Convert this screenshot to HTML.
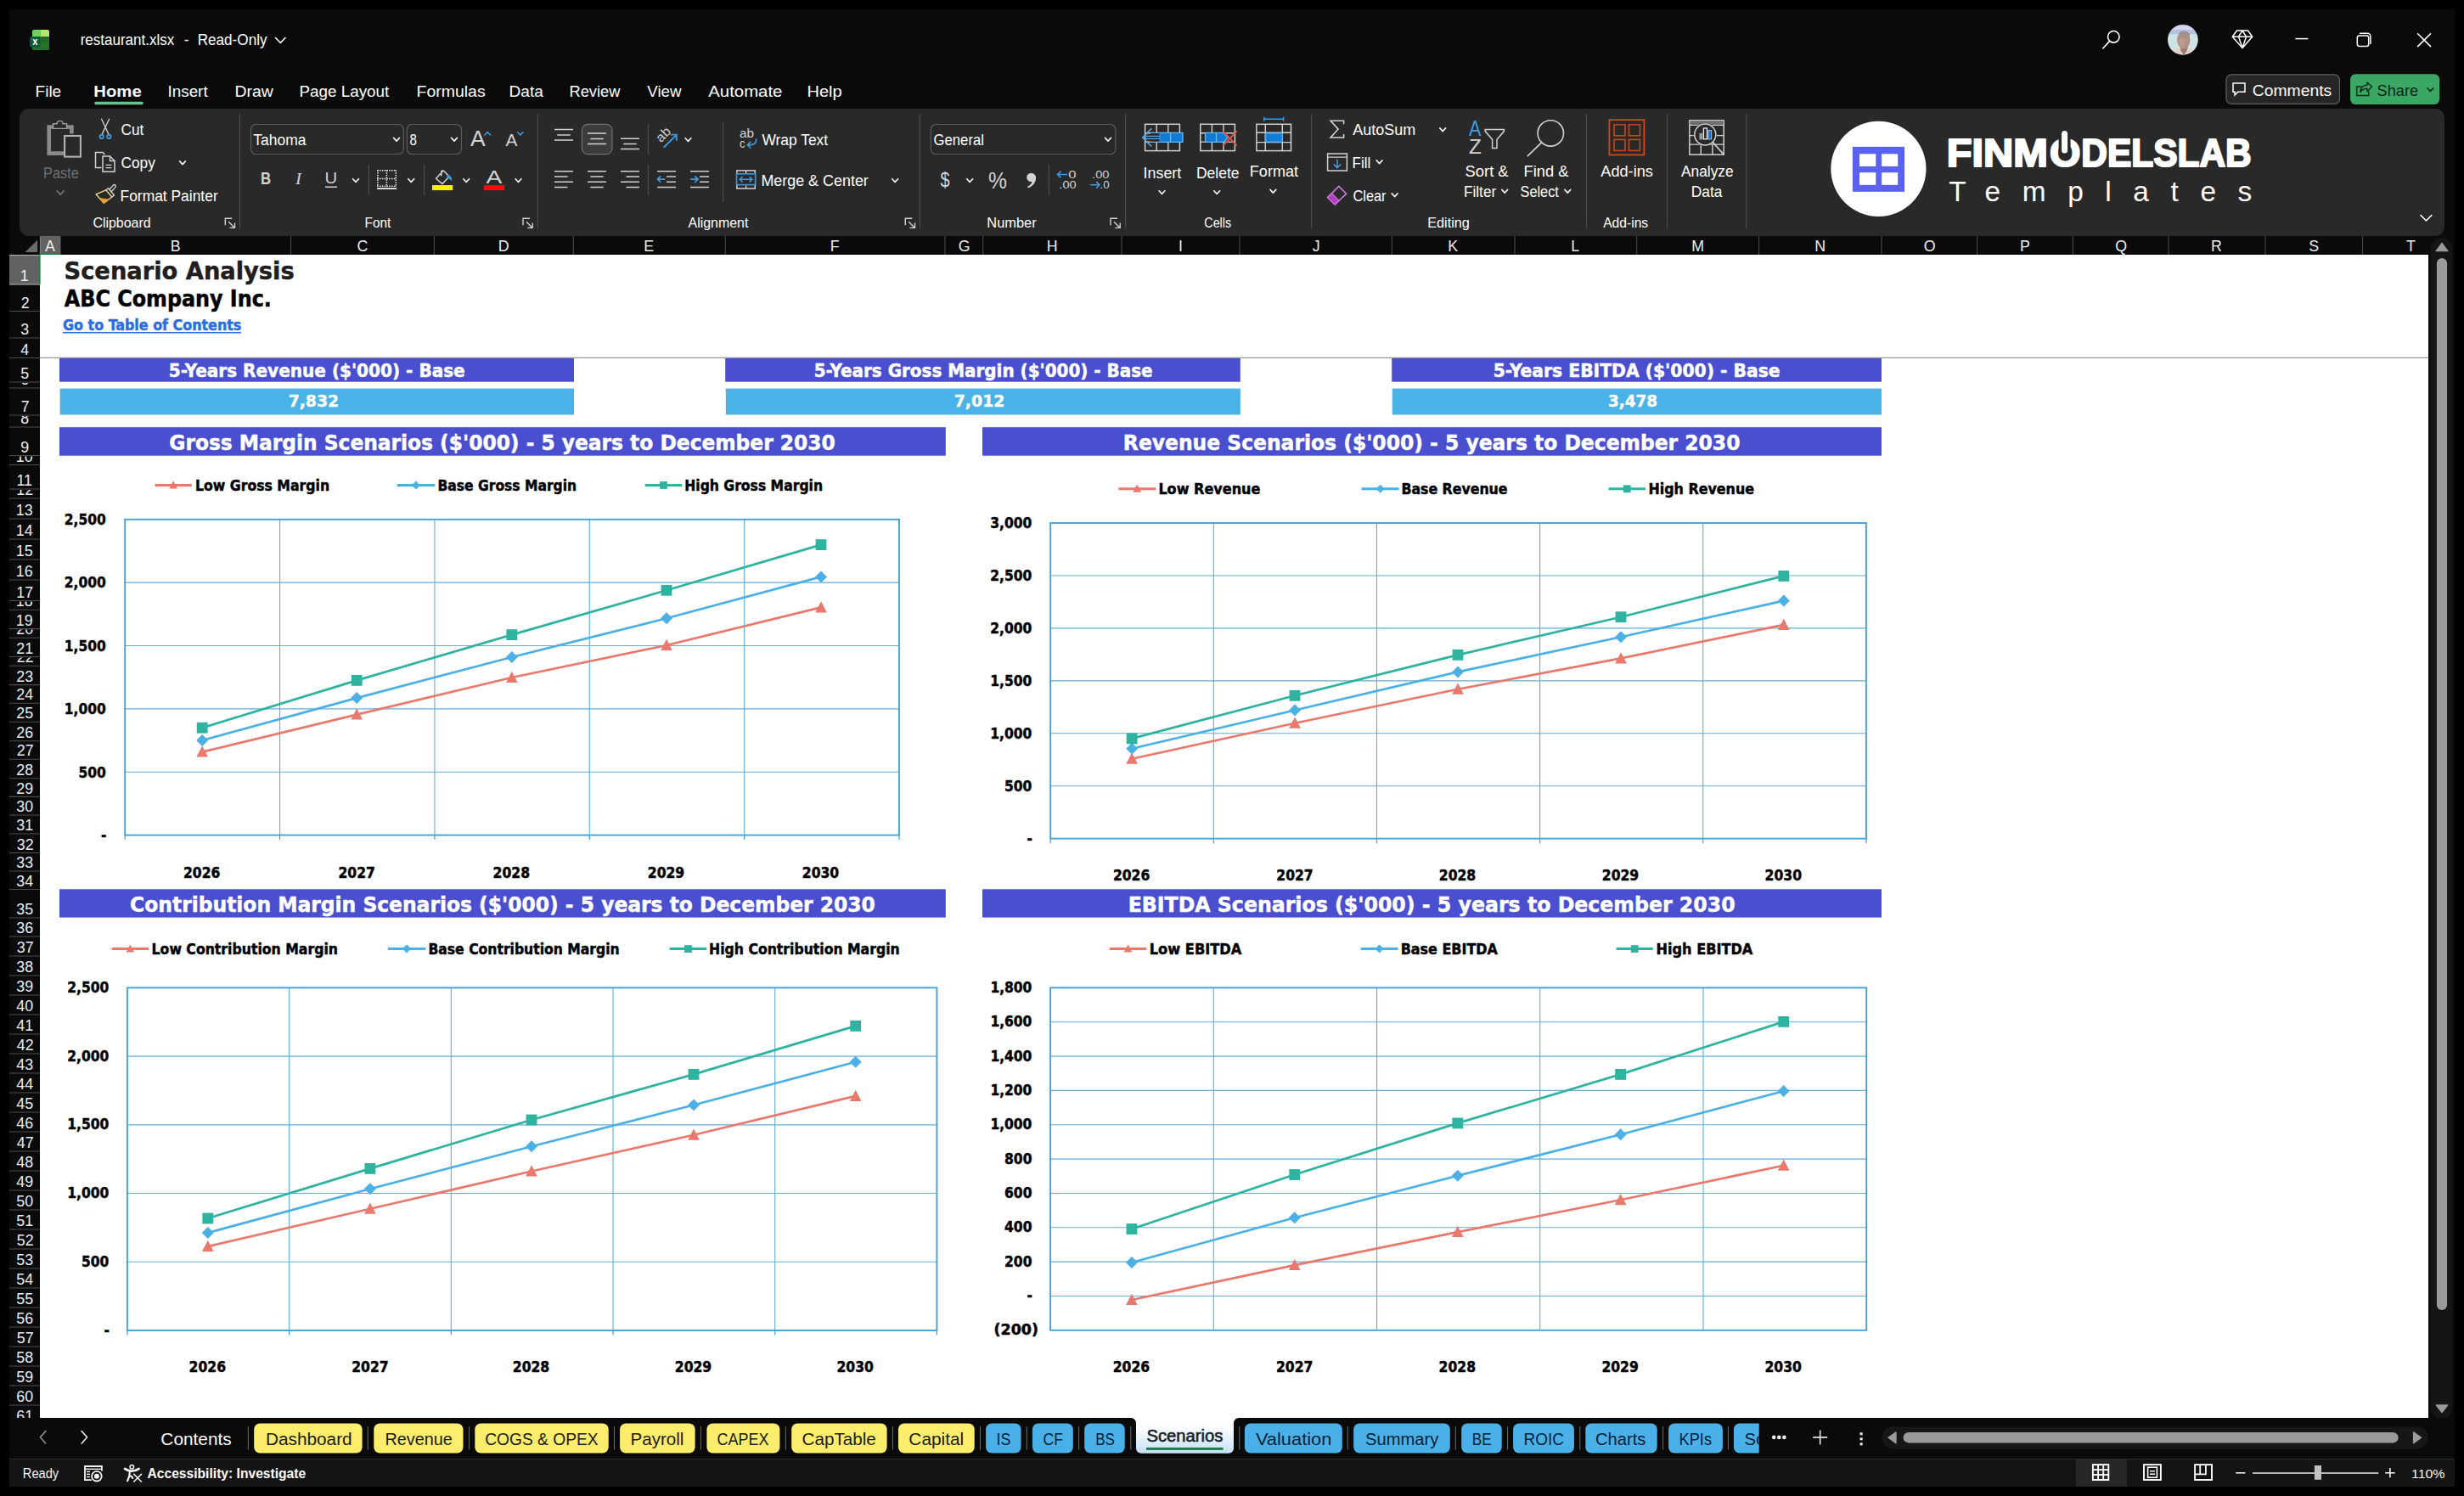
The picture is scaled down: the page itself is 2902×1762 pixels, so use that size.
<!DOCTYPE html>
<html lang="en"><head><meta charset="utf-8"><title>restaurant.xlsx - Excel</title>
<style>
html,body{margin:0;padding:0;background:#000;}
body{width:2902px;height:1762px;overflow:hidden;position:relative;font-family:"Liberation Sans",sans-serif;}
.rg{position:absolute;overflow:hidden;}
.rg svg{position:absolute;left:0;top:0;display:block;}
text{white-space:pre;}
</style></head><body>
<div class="rg " id="window" style="left:11px;top:11px;width:2880px;height:1740px;background:#0a0a0a;">
<svg width="2880" height="1740" viewBox="11 11 2880 1740">
</svg></div>
<div class="rg " id="titlebar" style="left:11px;top:11px;width:2880px;height:67px;">
<svg width="2880" height="67" viewBox="11 11 2880 67">
<rect x="38.00" y="35.00" width="20.00" height="24.00" fill="#236f29" rx="2.5"/>
<path d="M47.4 35 h8.1 a2.5 2.5 0 0 1 2.5 2.5 v5.8 h-10.6 z" fill="#b6e96a"/>
<path d="M40.5 35 h6.9 v8.3 h-9.4 v-5.8 a2.5 2.5 0 0 1 2.5 -2.5 z" fill="#68d45c"/>
<path d="M47.5 43.2 h10.5 v8 h-10.5 z" fill="#1f6b25"/>
<path d="M38 50 h20 v6.5 a2.5 2.5 0 0 1 -2.5 2.5 h-15 a2.5 2.5 0 0 1 -2.5 -2.5 z" fill="#24732a"/>
<rect x="35.00" y="43.00" width="12.60" height="12.70" fill="#105c38" rx="2.5"/>
<text transform="translate(38.30 52.80) scale(0.8250 1)" font-family='"Liberation Sans", sans-serif' font-size="13.5" font-weight="700" font-style="normal" fill="#ffffff">x</text>
<text transform="translate(94.71 53.30) scale(0.8948 1)" font-family='"Liberation Sans", sans-serif' font-size="19" font-weight="400" font-style="normal" fill="#ffffff">restaurant.xlsx</text>
<text transform="translate(216.70 53.30) scale(0.9167 1)" font-family='"Liberation Sans", sans-serif' font-size="19" font-weight="400" font-style="normal" fill="#ffffff">-</text>
<text transform="translate(232.70 53.30) scale(0.9013 1)" font-family='"Liberation Sans", sans-serif' font-size="19" font-weight="400" font-style="normal" fill="#ffffff">Read-Only</text>
<path d="M324.5 44.5 L330.3 50.5 L336 44.5" fill="none" stroke="#ffffff" stroke-width="1.6" stroke-linecap="round" stroke-linejoin="round"/>
<circle cx="2489.30" cy="43.30" r="6.80" fill="none" stroke="#ffffff" stroke-width="1.6"/>
<line x1="2484.60" y1="48.40" x2="2476.80" y2="57.00" stroke="#ffffff" stroke-width="1.6" stroke-linecap="round"/>
<defs><clipPath id="av"><circle cx="2570.9" cy="46.8" r="17.9"/></clipPath><filter id="avb" x="-10%" y="-10%" width="120%" height="120%"><feGaussianBlur stdDeviation="0.75"/></filter></defs>
<g clip-path="url(#av)"><g filter="url(#avb)">
<rect x="2548.00" y="24.00" width="46.00" height="46.00" fill="#cde4e4"/>
<rect x="2548.00" y="24.00" width="46.00" height="16.30" fill="#b3c2e6"/>
<rect x="2548.00" y="30.00" width="46.00" height="5.00" fill="#d3d8ee"/>
<path d="M2552 70 C2554 60 2560 57.5 2566 56.5 L2577 56.5 C2583 57.5 2589 60 2591 70 z" fill="#ddd5cd"/>
<path d="M2567.5 54 L2568.5 60 L2572 64.8 L2575.6 60 L2577 54 z" fill="#a07c70"/>
<ellipse cx="2571.7" cy="47" rx="7.7" ry="10.6" fill="#b0918a"/>
<ellipse cx="2572.6" cy="41" rx="6.6" ry="4.6" fill="#a4928f"/>
<ellipse cx="2569.6" cy="50" rx="4.2" ry="5.4" fill="#bb9a8f"/>
<path d="M2574.5 40 C2579 43 2580 50 2577.5 56 C2579.8 50 2579.6 43.5 2574.5 40 z" fill="#7d5a4f"/>
</g></g>
<path d="M2634.5 36 h13 l5.2 7.2 l-11.7 13.4 l-11.7 -13.4 z M2629.5 43.2 h23.2 M2636.5 43.2 l4.5 -7.2 l4.5 7.2 l-4.5 13.4 z" fill="none" stroke="#ffffff" stroke-width="1.5" stroke-linecap="round" stroke-linejoin="round"/>
<line x1="2703.40" y1="45.60" x2="2718.40" y2="45.60" stroke="#ffffff" stroke-width="1.5" stroke-linecap="butt"/>
<path d="M2778.5 42 h9 a2.2 2.2 0 0 1 2.2 2.2 v8 a2.2 2.2 0 0 1 -2.2 2.2 h-9 a2.2 2.2 0 0 1 -2.2 -2.2 v-8 a2.2 2.2 0 0 1 2.2 -2.2 z" fill="none" stroke="#ffffff" stroke-width="1.5" stroke-linecap="round" stroke-linejoin="round"/>
<path d="M2779.5 39.3 h8.8 a3.6 3.6 0 0 1 3.6 3.6 v8.6" fill="none" stroke="#ffffff" stroke-width="1.5" stroke-linecap="round" stroke-linejoin="round"/>
<path d="M2847.6 39.8 L2862.6 54.6 M2862.6 39.8 L2847.6 54.6" fill="none" stroke="#ffffff" stroke-width="1.6" stroke-linecap="round" stroke-linejoin="round"/>
</svg></div>
<div class="rg " id="menubar" style="left:11px;top:78px;width:2880px;height:50px;">
<svg width="2880" height="50" viewBox="11 78 2880 50">
<text transform="translate(41.59 113.60) scale(1.0098 1)" font-family='"Liberation Sans", sans-serif' font-size="18.8" font-weight="400" font-style="normal" fill="#ffffff">File</text>
<text transform="translate(110.32 113.60) scale(1.0801 1)" font-family='"Liberation Sans", sans-serif' font-size="18.8" font-weight="700" font-style="normal" fill="#ffffff">Home</text>
<text transform="translate(197.50 113.60) scale(1.0031 1)" font-family='"Liberation Sans", sans-serif' font-size="18.8" font-weight="400" font-style="normal" fill="#ffffff">Insert</text>
<text transform="translate(276.47 113.60) scale(1.0332 1)" font-family='"Liberation Sans", sans-serif' font-size="18.8" font-weight="400" font-style="normal" fill="#ffffff">Draw</text>
<text transform="translate(352.40 113.60) scale(1.0033 1)" font-family='"Liberation Sans", sans-serif' font-size="18.8" font-weight="400" font-style="normal" fill="#ffffff">Page Layout</text>
<text transform="translate(490.56 113.60) scale(1.0354 1)" font-family='"Liberation Sans", sans-serif' font-size="18.8" font-weight="400" font-style="normal" fill="#ffffff">Formulas</text>
<text transform="translate(599.59 113.60) scale(1.0146 1)" font-family='"Liberation Sans", sans-serif' font-size="18.8" font-weight="400" font-style="normal" fill="#ffffff">Data</text>
<text transform="translate(670.53 113.60) scale(0.9719 1)" font-family='"Liberation Sans", sans-serif' font-size="18.8" font-weight="400" font-style="normal" fill="#ffffff">Review</text>
<text transform="translate(762.30 113.60) scale(0.9950 1)" font-family='"Liberation Sans", sans-serif' font-size="18.8" font-weight="400" font-style="normal" fill="#ffffff">View</text>
<text transform="translate(834.30 113.60) scale(1.0833 1)" font-family='"Liberation Sans", sans-serif' font-size="18.8" font-weight="400" font-style="normal" fill="#ffffff">Automate</text>
<text transform="translate(950.43 113.60) scale(1.0677 1)" font-family='"Liberation Sans", sans-serif' font-size="18.8" font-weight="400" font-style="normal" fill="#ffffff">Help</text>
<rect x="111.20" y="119.70" width="57.60" height="3.50" fill="#6cc08e" rx="1.7"/>
<rect x="2622.00" y="87.80" width="133.50" height="34.60" fill="#262626" rx="6" stroke="#606060" stroke-width="1.2"/>
<path d="M2630 98 h14 v10.3 h-8.2 l-3.8 3.6 v-3.6 h-2 z" fill="none" stroke="#ffffff" stroke-width="1.5" stroke-linecap="round" stroke-linejoin="miter"/>
<text transform="translate(2652.80 112.80) scale(1.0450 1)" font-family='"Liberation Sans", sans-serif' font-size="18.5" font-weight="400" font-style="normal" fill="#ffffff">Comments</text>
<rect x="2768.10" y="87.30" width="105.00" height="35.60" fill="#3aa864" rx="6"/>
<path d="M2781 102 h-5.3 v10.5 h14 v-4.5" fill="none" stroke="#0f2a18" stroke-width="1.5" stroke-linecap="round" stroke-linejoin="miter"/>
<path d="M2779.8 108.5 c0.5 -5.5 3.7 -8 8.2 -8.2 v-3.3 l5.6 5.3 l-5.6 5.3 v-3.3 c-3.6 0 -6.2 1.2 -8.2 4.2 z" fill="none" stroke="#0f2a18" stroke-width="1.4" stroke-linecap="round" stroke-linejoin="round"/>
<text transform="translate(2799.60 112.80) scale(0.9821 1)" font-family='"Liberation Sans", sans-serif' font-size="18.5" font-weight="400" font-style="normal" fill="#0c1f12">Share</text>
<path d="M2858.80 103.70 L2862.30 107.50 L2865.80 103.70" fill="none" stroke="#0c1f12" stroke-width="1.5" stroke-linecap="round" stroke-linejoin="round"/>
</svg></div>
<div class="rg " id="ribbon" style="left:23px;top:128px;width:2856px;height:150px;background:#292929;border-radius:11px;">
<svg width="2856" height="150" viewBox="23 128 2856 150">
<line x1="282.50" y1="134.50" x2="282.50" y2="269.00" stroke="#4c4c4c" stroke-width="1.2" stroke-linecap="butt"/>
<line x1="633.40" y1="134.50" x2="633.40" y2="269.00" stroke="#4c4c4c" stroke-width="1.2" stroke-linecap="butt"/>
<line x1="1083.40" y1="134.50" x2="1083.40" y2="269.00" stroke="#4c4c4c" stroke-width="1.2" stroke-linecap="butt"/>
<line x1="1325.60" y1="134.50" x2="1325.60" y2="269.00" stroke="#4c4c4c" stroke-width="1.2" stroke-linecap="butt"/>
<line x1="1544.60" y1="134.50" x2="1544.60" y2="269.00" stroke="#4c4c4c" stroke-width="1.2" stroke-linecap="butt"/>
<line x1="1868.50" y1="134.50" x2="1868.50" y2="269.00" stroke="#4c4c4c" stroke-width="1.2" stroke-linecap="butt"/>
<line x1="1963.50" y1="134.50" x2="1963.50" y2="269.00" stroke="#4c4c4c" stroke-width="1.2" stroke-linecap="butt"/>
<line x1="2056.70" y1="134.50" x2="2056.70" y2="269.00" stroke="#4c4c4c" stroke-width="1.2" stroke-linecap="butt"/>
<path d="M84.4 157.5 V149.5 H57.7 V180.6 H75.2" fill="none" stroke="#8a8a8a" stroke-width="4.6" stroke-linecap="butt" stroke-linejoin="miter"/>
<path d="M62.6 151.4 v-5.6 h4.6 a3.4 3.4 0 0 1 6.8 0 h4.6 v5.6 z" fill="#292929" stroke="#9c9c9c" stroke-width="1.4" stroke-linecap="round" stroke-linejoin="miter"/>
<rect x="76.10" y="160.00" width="18.80" height="24.60" fill="#292929" stroke="#b2b2b2" stroke-width="2.1"/>
<text transform="translate(51.07 209.70) scale(0.9258 1)" font-family='"Liberation Sans", sans-serif' font-size="17.6" font-weight="400" font-style="normal" fill="#707070">Paste</text>
<path d="M67.20 224.90 L71.20 229.10 L75.20 224.90" fill="none" stroke="#707070" stroke-width="1.7" stroke-linecap="round" stroke-linejoin="round"/>
<path d="M119.6 140.2 L128.2 158.6 M128.6 140.2 L120 158.6" fill="none" stroke="#d2d2d2" stroke-width="1.3" stroke-linecap="round" stroke-linejoin="round"/>
<circle cx="119.70" cy="160.90" r="2.20" fill="none" stroke="#3f93d0" stroke-width="1.9"/>
<circle cx="128.40" cy="160.90" r="2.20" fill="none" stroke="#3f93d0" stroke-width="1.9"/>
<text transform="translate(142.50 159.10) scale(0.9785 1)" font-family='"Liberation Sans", sans-serif' font-size="17.6" font-weight="400" font-style="normal" fill="#ffffff">Cut</text>
<path d="M119.5 197.5 h-7 v-18 h8.5 l2.5 2.5" fill="none" stroke="#d2d2d2" stroke-width="1.5" stroke-linecap="butt" stroke-linejoin="miter"/>
<path d="M121 184 h8.5 l5.5 5.5 v12.7 h-14 z" fill="#292929" stroke="#d2d2d2" stroke-width="1.5" stroke-linecap="round" stroke-linejoin="miter"/>
<path d="M129.5 184 v5.5 h5.5" fill="none" stroke="#d2d2d2" stroke-width="1.3" stroke-linecap="round" stroke-linejoin="miter"/>
<line x1="124.50" y1="194.30" x2="131.50" y2="194.30" stroke="#d2d2d2" stroke-width="1.3" stroke-linecap="butt"/>
<line x1="124.50" y1="197.60" x2="131.50" y2="197.60" stroke="#d2d2d2" stroke-width="1.3" stroke-linecap="butt"/>
<text transform="translate(142.50 197.90) scale(0.9836 1)" font-family='"Liberation Sans", sans-serif' font-size="17.6" font-weight="400" font-style="normal" fill="#ffffff">Copy</text>
<path d="M211.60 189.85 L215.00 193.55 L218.40 189.85" fill="none" stroke="#ededed" stroke-width="1.7" stroke-linecap="round" stroke-linejoin="round"/>
<path d="M113 228.8 L124.8 223.8 L131.8 232 L122.4 239.3 z" fill="none" stroke="#f1d48c" stroke-width="1.4" stroke-linecap="round" stroke-linejoin="round"/>
<path d="M117.6 233.6 L128 235 L122.4 239.3 z" fill="#eaa02c" stroke="#eaa02c" stroke-width="0.8" stroke-linecap="round" stroke-linejoin="round"/>
<path d="M124.8 223.8 l2.7 -2.1 l7 8.2 l-2.7 2.1" fill="none" stroke="#d2d2d2" stroke-width="1.4" stroke-linecap="round" stroke-linejoin="round"/>
<path d="M128.8 223.2 L133.6 217.9 a1.7 1.7 0 0 1 2.5 2.2 L131.3 225.6" fill="none" stroke="#d2d2d2" stroke-width="1.4" stroke-linecap="round" stroke-linejoin="round"/>
<text transform="translate(141.51 237.00) scale(0.9905 1)" font-family='"Liberation Sans", sans-serif' font-size="17.6" font-weight="400" font-style="normal" fill="#ffffff">Format Painter</text>
<text transform="translate(109.40 268.10) scale(1.0162 1)" font-family='"Liberation Sans", sans-serif' font-size="15.7" font-weight="400" font-style="normal" fill="#ffffff">Clipboard</text>
<path d="M265.3 265.2 V257.2 H273.3" fill="none" stroke="#d2d2d2" stroke-width="1.4" stroke-linecap="butt" stroke-linejoin="miter"/>
<path d="M269.3 261.2 L276.5 268.4 M276.5 262.4 V268.4 H270.5" fill="none" stroke="#d2d2d2" stroke-width="1.4" stroke-linecap="butt" stroke-linejoin="miter"/>
<rect x="295.50" y="146.50" width="179.80" height="35.00" fill="none" rx="6" stroke="#5c5c5c" stroke-width="1.2"/>
<rect x="479.40" y="146.50" width="64.10" height="35.00" fill="none" rx="6" stroke="#5c5c5c" stroke-width="1.2"/>
<text transform="translate(298.30 171.00) scale(0.9719 1)" font-family='"Liberation Sans", sans-serif' font-size="18" font-weight="400" font-style="normal" fill="#ffffff">Tahoma</text>
<path d="M463.60 162.45 L467.00 166.15 L470.40 162.45" fill="none" stroke="#ededed" stroke-width="1.7" stroke-linecap="round" stroke-linejoin="round"/>
<text transform="translate(482.60 171.00) scale(0.8400 1)" font-family='"Liberation Sans", sans-serif' font-size="18" font-weight="400" font-style="normal" fill="#ffffff">8</text>
<path d="M531.60 162.45 L535.00 166.15 L538.40 162.45" fill="none" stroke="#ededed" stroke-width="1.7" stroke-linecap="round" stroke-linejoin="round"/>
<text transform="translate(554.00 171.50) scale(1.0588 1)" font-family='"Liberation Sans", sans-serif' font-size="25" font-weight="400" font-style="normal" fill="#d2d2d2">A</text>
<path d="M570.8 159 L574.2 155.6 L577.6 159" fill="none" stroke="#3c9be2" stroke-width="1.6" stroke-linecap="round" stroke-linejoin="round"/>
<text transform="translate(595.60 171.50) scale(0.9929 1)" font-family='"Liberation Sans", sans-serif' font-size="21" font-weight="400" font-style="normal" fill="#d2d2d2">A</text>
<path d="M609.6 155.8 L612.8 159 L616 155.8" fill="none" stroke="#3c9be2" stroke-width="1.6" stroke-linecap="round" stroke-linejoin="round"/>
<text transform="translate(306.94 217.30) scale(0.8615 1)" font-family='"Liberation Sans", sans-serif' font-size="19.5" font-weight="700" font-style="normal" fill="#d2d2d2">B</text>
<text transform="translate(348.08 217.30) scale(1.0778 1)" font-family='"Liberation Serif", serif' font-size="19.5" font-weight="400" font-style="italic" fill="#d2d2d2">I</text>
<text transform="translate(382.53 216.30) scale(1.0667 1)" font-family='"Liberation Sans", sans-serif' font-size="19" font-weight="400" font-style="normal" fill="#d2d2d2">U</text>
<line x1="383.00" y1="220.20" x2="397.00" y2="220.20" stroke="#d2d2d2" stroke-width="1.4" stroke-linecap="butt"/>
<path d="M415.60 210.75 L419.00 214.45 L422.40 210.75" fill="none" stroke="#ededed" stroke-width="1.7" stroke-linecap="round" stroke-linejoin="round"/>
<line x1="434.40" y1="193.70" x2="434.40" y2="229.50" stroke="#4c4c4c" stroke-width="1.2" stroke-linecap="butt"/>
<line x1="444.20" y1="200.80" x2="467.00" y2="200.80" stroke="#ececec" stroke-width="1.5" stroke-linecap="butt" stroke-dasharray="1.5 1.3"/>
<line x1="444.20" y1="210.60" x2="467.00" y2="210.60" stroke="#ececec" stroke-width="1.5" stroke-linecap="butt" stroke-dasharray="1.5 1.3"/>
<line x1="444.20" y1="219.20" x2="467.00" y2="219.20" stroke="#ececec" stroke-width="1.5" stroke-linecap="butt" stroke-dasharray="1.5 1.3"/>
<line x1="444.90" y1="200.20" x2="444.90" y2="220.00" stroke="#ececec" stroke-width="1.5" stroke-linecap="butt" stroke-dasharray="1.5 1.3"/>
<line x1="455.40" y1="200.20" x2="455.40" y2="220.00" stroke="#ececec" stroke-width="1.5" stroke-linecap="butt" stroke-dasharray="1.5 1.3"/>
<line x1="466.20" y1="200.20" x2="466.20" y2="220.00" stroke="#ececec" stroke-width="1.5" stroke-linecap="butt" stroke-dasharray="1.5 1.3"/>
<line x1="444.00" y1="222.10" x2="467.20" y2="222.10" stroke="#f0f0f0" stroke-width="1.7" stroke-linecap="butt"/>
<path d="M480.80 210.75 L484.20 214.45 L487.60 210.75" fill="none" stroke="#ededed" stroke-width="1.7" stroke-linecap="round" stroke-linejoin="round"/>
<line x1="499.50" y1="193.70" x2="499.50" y2="229.50" stroke="#4c4c4c" stroke-width="1.2" stroke-linecap="butt"/>
<path d="M521.5 201.5 L513.5 210.2 L521 216.6 L529 208 L523 201.6 a2.2 2.2 0 0 0 -3.2 0.2 v5" fill="none" stroke="#d2d2d2" stroke-width="1.5" stroke-linecap="round" stroke-linejoin="round"/>
<path d="M527.5 206 c2.5 0.5 4.2 2.5 4.3 6.3 c-1.6 -1.3 -2.6 -2.3 -4.6 -2.7 z" fill="#3c9be2" stroke="#3c9be2" stroke-width="1" stroke-linecap="round" stroke-linejoin="round"/>
<rect x="509.00" y="218.10" width="24.20" height="6.00" fill="#ffee00"/>
<path d="M545.80 210.75 L549.20 214.45 L552.60 210.75" fill="none" stroke="#ededed" stroke-width="1.7" stroke-linecap="round" stroke-linejoin="round"/>
<text transform="translate(572.60 216.30) scale(1.2533 1)" font-family='"Liberation Sans", sans-serif' font-size="22.5" font-weight="400" font-style="normal" fill="#d2d2d2">A</text>
<rect x="570.00" y="218.10" width="24.20" height="6.00" fill="#ff0a0a"/>
<path d="M607.10 210.75 L610.50 214.45 L613.90 210.75" fill="none" stroke="#ededed" stroke-width="1.7" stroke-linecap="round" stroke-linejoin="round"/>
<text transform="translate(429.52 268.10) scale(0.9829 1)" font-family='"Liberation Sans", sans-serif' font-size="15.7" font-weight="400" font-style="normal" fill="#ffffff">Font</text>
<path d="M616 265.2 V257.2 H624" fill="none" stroke="#d2d2d2" stroke-width="1.4" stroke-linecap="butt" stroke-linejoin="miter"/>
<path d="M620 261.2 L627.2 268.4 M627.2 262.4 V268.4 H621.2" fill="none" stroke="#d2d2d2" stroke-width="1.4" stroke-linecap="butt" stroke-linejoin="miter"/>
<line x1="653.00" y1="152.50" x2="675.00" y2="152.50" stroke="#d2d2d2" stroke-width="1.5" stroke-linecap="butt"/>
<line x1="656.30" y1="159.00" x2="671.70" y2="159.00" stroke="#d2d2d2" stroke-width="1.5" stroke-linecap="butt"/>
<line x1="653.00" y1="165.00" x2="675.00" y2="165.00" stroke="#d2d2d2" stroke-width="1.5" stroke-linecap="butt"/>
<rect x="685.40" y="146.40" width="35.60" height="35.20" fill="#3c3c3c" rx="7" stroke="#707070" stroke-width="1.2"/>
<line x1="692.00" y1="157.10" x2="714.00" y2="157.10" stroke="#d2d2d2" stroke-width="1.5" stroke-linecap="butt"/>
<line x1="695.30" y1="163.40" x2="710.70" y2="163.40" stroke="#d2d2d2" stroke-width="1.5" stroke-linecap="butt"/>
<line x1="692.00" y1="169.60" x2="714.00" y2="169.60" stroke="#d2d2d2" stroke-width="1.5" stroke-linecap="butt"/>
<line x1="731.00" y1="163.30" x2="753.00" y2="163.30" stroke="#d2d2d2" stroke-width="1.5" stroke-linecap="butt"/>
<line x1="734.30" y1="169.50" x2="749.70" y2="169.50" stroke="#d2d2d2" stroke-width="1.5" stroke-linecap="butt"/>
<line x1="731.00" y1="175.60" x2="753.00" y2="175.60" stroke="#d2d2d2" stroke-width="1.5" stroke-linecap="butt"/>
<line x1="763.40" y1="146.00" x2="763.40" y2="182.00" stroke="#4c4c4c" stroke-width="1.2" stroke-linecap="butt"/>
<g transform="translate(778.4 168.4) rotate(-45)">
<text transform="translate(0.00 0.00) scale(1.0387 1)" font-family='"Liberation Sans", sans-serif' font-size="15.4" font-weight="400" font-style="normal" fill="#d2d2d2">ab</text>
</g>
<path d="M781.6 173.8 L796.4 159.2 M789.6 158.6 h7.2 v7.2" fill="none" stroke="#3c96d8" stroke-width="1.9" stroke-linecap="butt" stroke-linejoin="miter"/>
<path d="M807.10 162.75 L810.50 166.45 L813.90 162.75" fill="none" stroke="#ededed" stroke-width="1.7" stroke-linecap="round" stroke-linejoin="round"/>
<line x1="851.70" y1="144.00" x2="851.70" y2="238.00" stroke="#4c4c4c" stroke-width="1.2" stroke-linecap="butt"/>
<text transform="translate(871.00 162.20) scale(1.0583 1)" font-family='"Liberation Sans", sans-serif' font-size="14.5" font-weight="400" font-style="normal" fill="#d2d2d2">ab</text>
<text transform="translate(871.00 174.20) scale(0.9143 1)" font-family='"Liberation Sans", sans-serif' font-size="14.5" font-weight="400" font-style="normal" fill="#d2d2d2">c</text>
<path d="M890.6 163.4 C891.4 168.6 888.4 170.7 880.6 170.7 M884.2 166.9 l-3.9 3.8 l3.9 3.8" fill="none" stroke="#3c96d8" stroke-width="1.7" stroke-linecap="butt" stroke-linejoin="miter"/>
<text transform="translate(897.40 170.50) scale(0.9901 1)" font-family='"Liberation Sans", sans-serif' font-size="17.6" font-weight="400" font-style="normal" fill="#ffffff">Wrap Text</text>
<line x1="653.00" y1="201.70" x2="675.00" y2="201.70" stroke="#d2d2d2" stroke-width="1.5" stroke-linecap="butt"/>
<line x1="692.00" y1="201.70" x2="714.00" y2="201.70" stroke="#d2d2d2" stroke-width="1.5" stroke-linecap="butt"/>
<line x1="731.00" y1="201.70" x2="753.00" y2="201.70" stroke="#d2d2d2" stroke-width="1.5" stroke-linecap="butt"/>
<line x1="653.00" y1="208.00" x2="668.50" y2="208.00" stroke="#d2d2d2" stroke-width="1.5" stroke-linecap="butt"/>
<line x1="695.30" y1="208.00" x2="710.70" y2="208.00" stroke="#d2d2d2" stroke-width="1.5" stroke-linecap="butt"/>
<line x1="737.50" y1="208.00" x2="753.00" y2="208.00" stroke="#d2d2d2" stroke-width="1.5" stroke-linecap="butt"/>
<line x1="653.00" y1="214.20" x2="675.00" y2="214.20" stroke="#d2d2d2" stroke-width="1.5" stroke-linecap="butt"/>
<line x1="692.00" y1="214.20" x2="714.00" y2="214.20" stroke="#d2d2d2" stroke-width="1.5" stroke-linecap="butt"/>
<line x1="731.00" y1="214.20" x2="753.00" y2="214.20" stroke="#d2d2d2" stroke-width="1.5" stroke-linecap="butt"/>
<line x1="653.00" y1="220.40" x2="668.50" y2="220.40" stroke="#d2d2d2" stroke-width="1.5" stroke-linecap="butt"/>
<line x1="695.30" y1="220.40" x2="710.70" y2="220.40" stroke="#d2d2d2" stroke-width="1.5" stroke-linecap="butt"/>
<line x1="737.50" y1="220.40" x2="753.00" y2="220.40" stroke="#d2d2d2" stroke-width="1.5" stroke-linecap="butt"/>
<line x1="763.40" y1="193.70" x2="763.40" y2="230.00" stroke="#4c4c4c" stroke-width="1.2" stroke-linecap="butt"/>
<line x1="774.00" y1="201.70" x2="796.00" y2="201.70" stroke="#d2d2d2" stroke-width="1.5" stroke-linecap="butt"/>
<line x1="774.00" y1="220.40" x2="796.00" y2="220.40" stroke="#d2d2d2" stroke-width="1.5" stroke-linecap="butt"/>
<line x1="785.00" y1="208.00" x2="796.00" y2="208.00" stroke="#d2d2d2" stroke-width="1.5" stroke-linecap="butt"/>
<line x1="785.00" y1="214.20" x2="796.00" y2="214.20" stroke="#d2d2d2" stroke-width="1.5" stroke-linecap="butt"/>
<line x1="813.00" y1="201.70" x2="835.00" y2="201.70" stroke="#d2d2d2" stroke-width="1.5" stroke-linecap="butt"/>
<line x1="813.00" y1="220.40" x2="835.00" y2="220.40" stroke="#d2d2d2" stroke-width="1.5" stroke-linecap="butt"/>
<line x1="824.00" y1="208.00" x2="835.00" y2="208.00" stroke="#d2d2d2" stroke-width="1.5" stroke-linecap="butt"/>
<line x1="824.00" y1="214.20" x2="835.00" y2="214.20" stroke="#d2d2d2" stroke-width="1.5" stroke-linecap="butt"/>
<path d="M783.5 211.1 h-9 M778.3 207.3 l-3.9 3.8 l3.9 3.8" fill="none" stroke="#3c9be2" stroke-width="1.7" stroke-linecap="butt" stroke-linejoin="miter"/>
<path d="M813 211.1 h9 M818.2 207.3 l3.9 3.8 l-3.9 3.8" fill="none" stroke="#3c9be2" stroke-width="1.7" stroke-linecap="butt" stroke-linejoin="miter"/>
<rect x="867.90" y="200.90" width="21.40" height="21.10" fill="none" stroke="#d2d2d2" stroke-width="1.5"/>
<rect x="867.50" y="204.80" width="22.20" height="12.80" fill="#292929" stroke="#3c96d8" stroke-width="1.7"/>
<line x1="878.60" y1="200.90" x2="878.60" y2="204.00" stroke="#d2d2d2" stroke-width="1.4" stroke-linecap="butt"/>
<line x1="878.60" y1="218.40" x2="878.60" y2="222.00" stroke="#d2d2d2" stroke-width="1.4" stroke-linecap="butt"/>
<path d="M871.3 211.2 h14.6 M874.6 208 l-3.3 3.2 l3.3 3.2 M882.6 208 l3.3 3.2 l-3.3 3.2" fill="none" stroke="#3c9be2" stroke-width="1.5" stroke-linecap="butt" stroke-linejoin="miter"/>
<text transform="translate(896.38 218.60) scale(1.0184 1)" font-family='"Liberation Sans", sans-serif' font-size="17.6" font-weight="400" font-style="normal" fill="#ffffff">Merge &amp; Center</text>
<path d="M1050.80 210.75 L1054.20 214.45 L1057.60 210.75" fill="none" stroke="#ededed" stroke-width="1.7" stroke-linecap="round" stroke-linejoin="round"/>
<text transform="translate(810.50 268.10) scale(1.0156 1)" font-family='"Liberation Sans", sans-serif' font-size="15.7" font-weight="400" font-style="normal" fill="#ffffff">Alignment</text>
<path d="M1066.3 265.2 V257.2 H1074.3" fill="none" stroke="#d2d2d2" stroke-width="1.4" stroke-linecap="butt" stroke-linejoin="miter"/>
<path d="M1070.3 261.2 L1077.5 268.4 M1077.5 262.4 V268.4 H1071.5" fill="none" stroke="#d2d2d2" stroke-width="1.4" stroke-linecap="butt" stroke-linejoin="miter"/>
<rect x="1096.30" y="146.50" width="217.50" height="35.00" fill="none" rx="6" stroke="#5c5c5c" stroke-width="1.2"/>
<text transform="translate(1099.60 171.00) scale(0.9264 1)" font-family='"Liberation Sans", sans-serif' font-size="18" font-weight="400" font-style="normal" fill="#ffffff">General</text>
<path d="M1301.60 162.45 L1305.00 166.15 L1308.40 162.45" fill="none" stroke="#ededed" stroke-width="1.7" stroke-linecap="round" stroke-linejoin="round"/>
<text transform="translate(1107.60 220.00) scale(0.8308 1)" font-family='"Liberation Sans", sans-serif' font-size="24" font-weight="400" font-style="normal" fill="#d2d2d2">$</text>
<path d="M1138.80 210.75 L1142.20 214.45 L1145.60 210.75" fill="none" stroke="#ededed" stroke-width="1.7" stroke-linecap="round" stroke-linejoin="round"/>
<text transform="translate(1164.00 221.80) scale(0.9167 1)" font-family='"Liberation Sans", sans-serif' font-size="27" font-weight="400" font-style="normal" fill="#d2d2d2">%</text>
<path d="M1214.5 204 a5.2 5.2 0 0 1 5.6 5.4 c0 5 -3 9.4 -9.2 12 l-0.8 -1.6 c3.6 -1.8 5 -3.7 5.3 -6 a5 5 0 0 1 -6.2 -4.8 a5 5 0 0 1 5.3 -5 z" fill="#d2d2d2"/>
<line x1="1235.40" y1="193.70" x2="1235.40" y2="230.00" stroke="#4c4c4c" stroke-width="1.2" stroke-linecap="butt"/>
<text transform="translate(1258.20 210.20) scale(1.3429 1)" font-family='"Liberation Sans", sans-serif' font-size="12.5" font-weight="400" font-style="normal" fill="#d2d2d2">0</text>
<text transform="translate(1247.34 222.40) scale(1.1629 1)" font-family='"Liberation Sans", sans-serif' font-size="12.5" font-weight="400" font-style="normal" fill="#d2d2d2">.00</text>
<path d="M1257 205.5 h-11.5 M1249.6 201.6 l-4 3.9 l4 3.9" fill="none" stroke="#3c9be2" stroke-width="1.6" stroke-linecap="butt" stroke-linejoin="miter"/>
<text transform="translate(1286.12 210.20) scale(1.1751 1)" font-family='"Liberation Sans", sans-serif' font-size="12.5" font-weight="400" font-style="normal" fill="#d2d2d2">.00</text>
<text transform="translate(1295.43 222.40) scale(1.0662 1)" font-family='"Liberation Sans", sans-serif' font-size="12.5" font-weight="400" font-style="normal" fill="#d2d2d2">.0</text>
<path d="M1284 217.8 h11 M1291 213.9 l4 3.9 l-4 3.9" fill="none" stroke="#3c9be2" stroke-width="1.6" stroke-linecap="butt" stroke-linejoin="miter"/>
<text transform="translate(1162.36 268.10) scale(1.0445 1)" font-family='"Liberation Sans", sans-serif' font-size="15.7" font-weight="400" font-style="normal" fill="#ffffff">Number</text>
<path d="M1308 265.2 V257.2 H1316" fill="none" stroke="#d2d2d2" stroke-width="1.4" stroke-linecap="butt" stroke-linejoin="miter"/>
<path d="M1312 261.2 L1319.2 268.4 M1319.2 262.4 V268.4 H1313.2" fill="none" stroke="#d2d2d2" stroke-width="1.4" stroke-linecap="butt" stroke-linejoin="miter"/>
<rect x="1348.60" y="146.30" width="40.80" height="31.30" fill="none" stroke="#d2d2d2" stroke-width="1.5"/>
<line x1="1362.20" y1="146.30" x2="1362.20" y2="177.60" stroke="#d2d2d2" stroke-width="1.4" stroke-linecap="butt"/>
<line x1="1375.80" y1="146.30" x2="1375.80" y2="177.60" stroke="#d2d2d2" stroke-width="1.4" stroke-linecap="butt"/>
<line x1="1348.60" y1="156.73" x2="1389.40" y2="156.73" stroke="#d2d2d2" stroke-width="1.4" stroke-linecap="butt"/>
<line x1="1348.60" y1="167.17" x2="1389.40" y2="167.17" stroke="#d2d2d2" stroke-width="1.4" stroke-linecap="butt"/>
<rect x="1355.00" y="156.40" width="38.00" height="11.00" fill="#292929"/>
<rect x="1366.00" y="156.40" width="27.00" height="11.00" fill="#0f7bd7"/>
<path d="M1355 156.4 h38 v11 h-38" fill="none" stroke="#6cb6ee" stroke-width="1.3" stroke-linecap="butt" stroke-linejoin="miter"/>
<line x1="1378.60" y1="156.40" x2="1378.60" y2="167.40" stroke="#6cb6ee" stroke-width="1.3" stroke-linecap="butt"/>
<line x1="1366.00" y1="156.40" x2="1366.00" y2="167.40" stroke="#3f95dd" stroke-width="1" stroke-linecap="butt"/>
<path d="M1356.2 151.3 l-10.4 10.6 l10.4 10.6" fill="none" stroke="#55a9ea" stroke-width="1.7" stroke-linecap="butt" stroke-linejoin="miter"/>
<path d="M1366 160.4 h-18.6 M1366 163.4 h-18.6" fill="none" stroke="#55a9ea" stroke-width="1.2" stroke-linecap="butt" stroke-linejoin="round"/>
<text transform="translate(1346.59 209.60) scale(1.0136 1)" font-family='"Liberation Sans", sans-serif' font-size="17.6" font-weight="400" font-style="normal" fill="#ffffff">Insert</text>
<path d="M1365.10 224.75 L1368.50 228.45 L1371.90 224.75" fill="none" stroke="#ededed" stroke-width="1.7" stroke-linecap="round" stroke-linejoin="round"/>
<rect x="1413.80" y="146.30" width="40.60" height="31.30" fill="none" stroke="#d2d2d2" stroke-width="1.5"/>
<line x1="1427.40" y1="146.30" x2="1427.40" y2="177.60" stroke="#d2d2d2" stroke-width="1.4" stroke-linecap="butt"/>
<line x1="1441.00" y1="146.30" x2="1441.00" y2="177.60" stroke="#d2d2d2" stroke-width="1.4" stroke-linecap="butt"/>
<line x1="1413.80" y1="156.73" x2="1454.40" y2="156.73" stroke="#d2d2d2" stroke-width="1.4" stroke-linecap="butt"/>
<line x1="1413.80" y1="167.17" x2="1454.40" y2="167.17" stroke="#d2d2d2" stroke-width="1.4" stroke-linecap="butt"/>
<rect x="1419.50" y="156.40" width="24.50" height="11.00" fill="#0f7bd7"/>
<path d="M1419.5 156.4 h22 l4.5 5.5 l-4.5 5.5 h-22 z" fill="#0f7bd7" stroke="#6cb6ee" stroke-width="1.3" stroke-linecap="round" stroke-linejoin="miter"/>
<line x1="1432.50" y1="156.40" x2="1432.50" y2="167.40" stroke="#6cb6ee" stroke-width="1.3" stroke-linecap="butt"/>
<path d="M1440.4 154.6 L1456.6 171.4 M1456.6 154.6 L1440.4 171.4" fill="none" stroke="#e8534e" stroke-width="2" stroke-linecap="butt" stroke-linejoin="round"/>
<text transform="translate(1408.90 209.60) scale(0.9965 1)" font-family='"Liberation Sans", sans-serif' font-size="17.6" font-weight="400" font-style="normal" fill="#ffffff">Delete</text>
<path d="M1429.80 224.75 L1433.20 228.45 L1436.60 224.75" fill="none" stroke="#ededed" stroke-width="1.7" stroke-linecap="round" stroke-linejoin="round"/>
<rect x="1479.90" y="146.30" width="40.60" height="31.30" fill="none" stroke="#d2d2d2" stroke-width="1.5"/>
<line x1="1490.30" y1="146.30" x2="1490.30" y2="177.60" stroke="#d2d2d2" stroke-width="1.4" stroke-linecap="butt"/>
<line x1="1510.30" y1="146.30" x2="1510.30" y2="177.60" stroke="#d2d2d2" stroke-width="1.4" stroke-linecap="butt"/>
<line x1="1479.90" y1="156.20" x2="1520.50" y2="156.20" stroke="#d2d2d2" stroke-width="1.4" stroke-linecap="butt"/>
<line x1="1479.90" y1="167.60" x2="1520.50" y2="167.60" stroke="#d2d2d2" stroke-width="1.4" stroke-linecap="butt"/>
<rect x="1490.60" y="156.80" width="19.80" height="10.40" fill="#0f7bd7" stroke="#6cb6ee" stroke-width="1.2"/>
<path d="M1488.8 140.3 h22.8 M1488.8 137.8 v5 M1511.6 137.8 v5" fill="none" stroke="#3c9be2" stroke-width="1.5" stroke-linecap="butt" stroke-linejoin="round"/>
<text transform="translate(1471.77 207.70) scale(1.0286 1)" font-family='"Liberation Sans", sans-serif' font-size="17.6" font-weight="400" font-style="normal" fill="#ffffff">Format</text>
<path d="M1496.00 223.35 L1499.40 227.05 L1502.80 223.35" fill="none" stroke="#ededed" stroke-width="1.7" stroke-linecap="round" stroke-linejoin="round"/>
<text transform="translate(1418.30 268.10) scale(0.9137 1)" font-family='"Liberation Sans", sans-serif' font-size="15.7" font-weight="400" font-style="normal" fill="#ffffff">Cells</text>
<path d="M1582.6 146.2 v-4 h-15.5 l9 9.9 l-9 9.9 h15.5 v-4" fill="none" stroke="#d2d2d2" stroke-width="1.6" stroke-linecap="butt" stroke-linejoin="miter"/>
<text transform="translate(1593.20 159.00) scale(1.0235 1)" font-family='"Liberation Sans", sans-serif' font-size="17.6" font-weight="400" font-style="normal" fill="#ffffff">AutoSum</text>
<path d="M1695.80 150.85 L1699.20 154.55 L1702.60 150.85" fill="none" stroke="#ededed" stroke-width="1.7" stroke-linecap="round" stroke-linejoin="round"/>
<rect x="1563.60" y="181.00" width="22.80" height="20.00" fill="none" stroke="#d2d2d2" stroke-width="1.5"/>
<line x1="1563.60" y1="185.20" x2="1586.40" y2="185.20" stroke="#d2d2d2" stroke-width="1.3" stroke-linecap="butt"/>
<path d="M1575 187.8 v9.6 M1570.8 193.5 l4.2 4.1 l4.2 -4.1" fill="none" stroke="#3c9be2" stroke-width="1.6" stroke-linecap="butt" stroke-linejoin="miter"/>
<text transform="translate(1592.53 197.80) scale(0.9677 1)" font-family='"Liberation Sans", sans-serif' font-size="17.6" font-weight="400" font-style="normal" fill="#ffffff">Fill</text>
<path d="M1621.20 188.95 L1624.60 192.65 L1628.00 188.95" fill="none" stroke="#ededed" stroke-width="1.7" stroke-linecap="round" stroke-linejoin="round"/>
<path d="M1576.8 219.4 L1585.6 228.2 L1572.2 241 L1563.6 232.6 z" fill="none" stroke="#c877d6" stroke-width="1.6" stroke-linecap="round" stroke-linejoin="miter"/>
<path d="M1568.6 227.8 L1577 236.2 L1572.2 241 L1563.6 232.6 z" fill="#b23fc6" stroke="#c877d6" stroke-width="1.2" stroke-linecap="round" stroke-linejoin="miter"/>
<text transform="translate(1593.50 237.00) scale(0.9293 1)" font-family='"Liberation Sans", sans-serif' font-size="17.6" font-weight="400" font-style="normal" fill="#ffffff">Clear</text>
<path d="M1639.20 227.95 L1642.60 231.65 L1646.00 227.95" fill="none" stroke="#ededed" stroke-width="1.7" stroke-linecap="round" stroke-linejoin="round"/>
<text transform="translate(1730.00 160.00) scale(0.8647 1)" font-family='"Liberation Sans", sans-serif' font-size="25" font-weight="400" font-style="normal" fill="#3c9be2">A</text>
<text transform="translate(1730.00 181.30) scale(1.0143 1)" font-family='"Liberation Sans", sans-serif' font-size="24" font-weight="400" font-style="normal" fill="#d2d2d2">Z</text>
<path d="M1749.2 152.4 h22.2 v2.2 l-8.4 9.6 v10.4 h-5.4 v-10.4 l-8.4 -9.6 z" fill="none" stroke="#d2d2d2" stroke-width="1.5" stroke-linecap="round" stroke-linejoin="miter"/>
<text transform="translate(1725.50 207.60) scale(1.0457 1)" font-family='"Liberation Sans", sans-serif' font-size="17.6" font-weight="400" font-style="normal" fill="#ffffff">Sort &amp;</text>
<text transform="translate(1724.02 231.50) scale(0.9755 1)" font-family='"Liberation Sans", sans-serif' font-size="17.6" font-weight="400" font-style="normal" fill="#ffffff">Filter</text>
<path d="M1768.80 223.35 L1772.20 227.05 L1775.60 223.35" fill="none" stroke="#ededed" stroke-width="1.7" stroke-linecap="round" stroke-linejoin="round"/>
<circle cx="1826.30" cy="156.90" r="15.20" fill="none" stroke="#d2d2d2" stroke-width="1.6"/>
<line x1="1815.60" y1="167.80" x2="1798.80" y2="184.20" stroke="#d2d2d2" stroke-width="1.7" stroke-linecap="butt"/>
<text transform="translate(1794.56 207.60) scale(1.0416 1)" font-family='"Liberation Sans", sans-serif' font-size="17.6" font-weight="400" font-style="normal" fill="#ffffff">Find &amp;</text>
<text transform="translate(1790.50 231.50) scale(0.9284 1)" font-family='"Liberation Sans", sans-serif' font-size="17.6" font-weight="400" font-style="normal" fill="#ffffff">Select</text>
<path d="M1842.90 223.35 L1846.30 227.05 L1849.70 223.35" fill="none" stroke="#ededed" stroke-width="1.7" stroke-linecap="round" stroke-linejoin="round"/>
<text transform="translate(1681.16 268.10) scale(1.0359 1)" font-family='"Liberation Sans", sans-serif' font-size="15.7" font-weight="400" font-style="normal" fill="#ffffff">Editing</text>
<rect x="1895.40" y="141.20" width="41.00" height="41.20" fill="none" stroke="#cc4a1c" stroke-width="1.8"/>
<rect x="1901.00" y="146.80" width="13.00" height="13.00" fill="none" stroke="#cc4a1c" stroke-width="1.5"/>
<rect x="1901.00" y="164.40" width="13.00" height="13.00" fill="none" stroke="#cc4a1c" stroke-width="1.5"/>
<rect x="1918.50" y="146.80" width="13.00" height="13.00" fill="none" stroke="#cc4a1c" stroke-width="1.5"/>
<rect x="1918.50" y="164.40" width="13.00" height="13.00" fill="none" stroke="#cc4a1c" stroke-width="1.5"/>
<text transform="translate(1885.30 207.60) scale(1.0325 1)" font-family='"Liberation Sans", sans-serif' font-size="17.6" font-weight="400" font-style="normal" fill="#ffffff">Add-ins</text>
<text transform="translate(1888.20 268.10) scale(0.9954 1)" font-family='"Liberation Sans", sans-serif' font-size="15.7" font-weight="400" font-style="normal" fill="#ffffff">Add-ins</text>
<rect x="1989.90" y="141.80" width="40.30" height="40.30" fill="none" stroke="#d2d2d2" stroke-width="1.5"/>
<rect x="1990.60" y="142.60" width="38.90" height="3.80" fill="#707070"/>
<line x1="1989.90" y1="147.40" x2="2030.20" y2="147.40" stroke="#d2d2d2" stroke-width="1.4" stroke-linecap="butt"/>
<line x1="1989.90" y1="159.60" x2="2030.20" y2="159.60" stroke="#d2d2d2" stroke-width="1.4" stroke-linecap="butt"/>
<line x1="1989.90" y1="170.10" x2="2030.20" y2="170.10" stroke="#d2d2d2" stroke-width="1.4" stroke-linecap="butt"/>
<line x1="2003.30" y1="170.10" x2="2003.30" y2="182.10" stroke="#d2d2d2" stroke-width="1.4" stroke-linecap="butt"/>
<line x1="2016.90" y1="170.10" x2="2016.90" y2="182.10" stroke="#d2d2d2" stroke-width="1.4" stroke-linecap="butt"/>
<circle cx="2008.30" cy="158.50" r="13.60" fill="#292929"/>
<circle cx="2008.30" cy="158.50" r="12.50" fill="#292929" stroke="#d2d2d2" stroke-width="1.5"/>
<line x1="2017.30" y1="167.60" x2="2030.40" y2="182.20" stroke="#d2d2d2" stroke-width="1.7" stroke-linecap="butt"/>
<rect x="2001.40" y="156.80" width="3.90" height="7.60" fill="#9a9a9a"/>
<rect x="2006.40" y="151.00" width="4.10" height="12.80" fill="#292929" stroke="#ececec" stroke-width="1.3"/>
<rect x="2011.90" y="153.60" width="3.70" height="10.30" fill="#1373cc" stroke="#8ec8f5" stroke-width="1"/>
<text transform="translate(1980.00 207.60) scale(0.9853 1)" font-family='"Liberation Sans", sans-serif' font-size="17.6" font-weight="400" font-style="normal" fill="#ffffff">Analyze</text>
<text transform="translate(1991.71 231.50) scale(0.9868 1)" font-family='"Liberation Sans", sans-serif' font-size="17.6" font-weight="400" font-style="normal" fill="#ffffff">Data</text>
<circle cx="2212.40" cy="198.80" r="56.10" fill="#ffffff"/>
<rect x="2181.90" y="172.90" width="61.10" height="52.90" fill="#5b62ef"/>
<rect x="2190.00" y="181.30" width="19.30" height="14.60" fill="#ffffff"/>
<rect x="2190.00" y="203.20" width="19.30" height="14.60" fill="#ffffff"/>
<rect x="2216.20" y="181.30" width="19.00" height="14.60" fill="#ffffff"/>
<rect x="2216.20" y="203.20" width="19.00" height="14.60" fill="#ffffff"/>
<text transform="translate(2292.72 196.30) scale(1.0598 1)" font-family='"Liberation Sans", sans-serif' font-size="46" font-weight="700" font-style="normal" fill="#ffffff" stroke="#ffffff" stroke-width="2.2" stroke-linejoin="round">FINM</text>
<text transform="translate(2414.08 196.30) scale(1.0182 1)" font-family='"Liberation Sans", sans-serif' font-size="46" font-weight="700" font-style="normal" fill="#ffffff" stroke="#ffffff" stroke-width="2.2" stroke-linejoin="round">O</text>
<text transform="translate(2451.23 196.30) scale(0.9235 1)" font-family='"Liberation Sans", sans-serif' font-size="46" font-weight="700" font-style="normal" fill="#ffffff" stroke="#ffffff" stroke-width="2.2" stroke-linejoin="round">DELSLAB</text>
<rect x="2424.60" y="150.50" width="14.00" height="33.00" fill="#292929" rx="7"/>
<rect x="2428.10" y="154.00" width="7.00" height="26.50" fill="#ffffff" rx="3.5"/>
<text transform="translate(2295.30 236.70) scale(0.9835 1)" font-family='"Liberation Sans", sans-serif' font-size="34" font-weight="400" font-style="normal" fill="#ffffff" letter-spacing="26">Templates</text>
<path d="M2851 253.5 L2857.4 260 L2863.8 253.5" fill="none" stroke="#ffffff" stroke-width="1.6" stroke-linecap="round" stroke-linejoin="round"/>
</svg></div>
<div class="rg " id="colheader" style="left:11px;top:278px;width:2880px;height:22px;background:#0a0a0a;">
<svg width="2880" height="22" viewBox="11 278 2880 22">
<path d="M29.5 296.9 L44.1 296.9 L44.1 282.8 z" fill="#6a6a6a"/>
<rect x="47.00" y="278.00" width="24.00" height="22.00" fill="#626262"/>
<line x1="70.60" y1="279.00" x2="70.60" y2="298.50" stroke="#a8a8a8" stroke-width="1" stroke-linecap="butt"/>
<line x1="47.40" y1="279.00" x2="47.40" y2="298.50" stroke="#8a8a8a" stroke-width="0.8" stroke-linecap="butt"/>
<rect x="46.20" y="298.20" width="25.40" height="2.30" fill="#1f7a45"/>
<text transform="translate(53.00 296.10)" font-family='"Liberation Sans", sans-serif' font-size="17.8" font-weight="400" font-style="normal" fill="#ececec">A</text>
<line x1="71.00" y1="278.00" x2="71.00" y2="300.00" stroke="#444444" stroke-width="1.2" stroke-linecap="butt"/>
<text transform="translate(200.75 296.10)" font-family='"Liberation Sans", sans-serif' font-size="17.8" font-weight="400" font-style="normal" fill="#ececec">B</text>
<line x1="342.50" y1="278.00" x2="342.50" y2="300.00" stroke="#444444" stroke-width="1.2" stroke-linecap="butt"/>
<text transform="translate(420.45 296.10)" font-family='"Liberation Sans", sans-serif' font-size="17.8" font-weight="400" font-style="normal" fill="#ececec">C</text>
<line x1="511.40" y1="278.00" x2="511.40" y2="300.00" stroke="#444444" stroke-width="1.2" stroke-linecap="butt"/>
<text transform="translate(586.85 296.10)" font-family='"Liberation Sans", sans-serif' font-size="17.8" font-weight="400" font-style="normal" fill="#ececec">D</text>
<line x1="675.30" y1="278.00" x2="675.30" y2="300.00" stroke="#444444" stroke-width="1.2" stroke-linecap="butt"/>
<text transform="translate(758.30 296.10)" font-family='"Liberation Sans", sans-serif' font-size="17.8" font-weight="400" font-style="normal" fill="#ececec">E</text>
<line x1="854.30" y1="278.00" x2="854.30" y2="300.00" stroke="#444444" stroke-width="1.2" stroke-linecap="butt"/>
<text transform="translate(977.65 296.10)" font-family='"Liberation Sans", sans-serif' font-size="17.8" font-weight="400" font-style="normal" fill="#ececec">F</text>
<line x1="1113.00" y1="278.00" x2="1113.00" y2="300.00" stroke="#444444" stroke-width="1.2" stroke-linecap="butt"/>
<text transform="translate(1128.85 296.10)" font-family='"Liberation Sans", sans-serif' font-size="17.8" font-weight="400" font-style="normal" fill="#ececec">G</text>
<line x1="1157.70" y1="278.00" x2="1157.70" y2="300.00" stroke="#444444" stroke-width="1.2" stroke-linecap="butt"/>
<text transform="translate(1232.85 296.10)" font-family='"Liberation Sans", sans-serif' font-size="17.8" font-weight="400" font-style="normal" fill="#ececec">H</text>
<line x1="1321.00" y1="278.00" x2="1321.00" y2="300.00" stroke="#444444" stroke-width="1.2" stroke-linecap="butt"/>
<text transform="translate(1388.00 296.10)" font-family='"Liberation Sans", sans-serif' font-size="17.8" font-weight="400" font-style="normal" fill="#ececec">I</text>
<line x1="1460.00" y1="278.00" x2="1460.00" y2="300.00" stroke="#444444" stroke-width="1.2" stroke-linecap="butt"/>
<text transform="translate(1545.70 296.10)" font-family='"Liberation Sans", sans-serif' font-size="17.8" font-weight="400" font-style="normal" fill="#ececec">J</text>
<line x1="1639.40" y1="278.00" x2="1639.40" y2="300.00" stroke="#444444" stroke-width="1.2" stroke-linecap="butt"/>
<text transform="translate(1705.20 296.10)" font-family='"Liberation Sans", sans-serif' font-size="17.8" font-weight="400" font-style="normal" fill="#ececec">K</text>
<line x1="1784.00" y1="278.00" x2="1784.00" y2="300.00" stroke="#444444" stroke-width="1.2" stroke-linecap="butt"/>
<text transform="translate(1850.35 296.10)" font-family='"Liberation Sans", sans-serif' font-size="17.8" font-weight="400" font-style="normal" fill="#ececec">L</text>
<line x1="1927.70" y1="278.00" x2="1927.70" y2="300.00" stroke="#444444" stroke-width="1.2" stroke-linecap="butt"/>
<text transform="translate(1992.15 296.10)" font-family='"Liberation Sans", sans-serif' font-size="17.8" font-weight="400" font-style="normal" fill="#ececec">M</text>
<line x1="2071.60" y1="278.00" x2="2071.60" y2="300.00" stroke="#444444" stroke-width="1.2" stroke-linecap="butt"/>
<text transform="translate(2137.30 296.10)" font-family='"Liberation Sans", sans-serif' font-size="17.8" font-weight="400" font-style="normal" fill="#ececec">N</text>
<line x1="2216.00" y1="278.00" x2="2216.00" y2="300.00" stroke="#444444" stroke-width="1.2" stroke-linecap="butt"/>
<text transform="translate(2265.85 296.10)" font-family='"Liberation Sans", sans-serif' font-size="17.8" font-weight="400" font-style="normal" fill="#ececec">O</text>
<line x1="2328.70" y1="278.00" x2="2328.70" y2="300.00" stroke="#444444" stroke-width="1.2" stroke-linecap="butt"/>
<text transform="translate(2379.05 296.10)" font-family='"Liberation Sans", sans-serif' font-size="17.8" font-weight="400" font-style="normal" fill="#ececec">P</text>
<line x1="2441.40" y1="278.00" x2="2441.40" y2="300.00" stroke="#444444" stroke-width="1.2" stroke-linecap="butt"/>
<text transform="translate(2491.20 296.10)" font-family='"Liberation Sans", sans-serif' font-size="17.8" font-weight="400" font-style="normal" fill="#ececec">Q</text>
<line x1="2554.00" y1="278.00" x2="2554.00" y2="300.00" stroke="#444444" stroke-width="1.2" stroke-linecap="butt"/>
<text transform="translate(2604.00 296.10)" font-family='"Liberation Sans", sans-serif' font-size="17.8" font-weight="400" font-style="normal" fill="#ececec">R</text>
<line x1="2668.00" y1="278.00" x2="2668.00" y2="300.00" stroke="#444444" stroke-width="1.2" stroke-linecap="butt"/>
<text transform="translate(2719.25 296.10)" font-family='"Liberation Sans", sans-serif' font-size="17.8" font-weight="400" font-style="normal" fill="#ececec">S</text>
<line x1="2782.50" y1="278.00" x2="2782.50" y2="300.00" stroke="#444444" stroke-width="1.2" stroke-linecap="butt"/>
<text transform="translate(2834.00 296.10)" font-family='"Liberation Sans", sans-serif' font-size="17.8" font-weight="400" font-style="normal" fill="#ececec">T</text>
</svg></div>
<div class="rg " id="rowheader" style="left:11px;top:300px;width:36px;height:1370px;background:#0a0a0a;">
<svg width="36" height="1370" viewBox="11 300 36 1370">
<rect x="11.00" y="300.00" width="36.00" height="35.00" fill="#626262"/>
<line x1="11.00" y1="300.60" x2="46.00" y2="300.60" stroke="#b4b4b4" stroke-width="1" stroke-linecap="butt"/>
<rect x="45.80" y="300.00" width="1.80" height="35.40" fill="#1f7a45"/>
<clipPath id="rc1"><rect x="11" y="301.0" width="36" height="34.0"/></clipPath>
<g clip-path="url(#rc1)">
<text transform="translate(23.80 331.10)" font-family='"Liberation Sans", sans-serif' font-size="17.8" font-weight="400" font-style="normal" fill="#ececec">1</text>
</g>
<line x1="11.00" y1="335.00" x2="47.00" y2="335.00" stroke="#b4b4b4" stroke-width="1.1" stroke-linecap="butt"/>
<clipPath id="rc2"><rect x="11" y="336.0" width="36" height="30.5"/></clipPath>
<g clip-path="url(#rc2)">
<text transform="translate(24.80 362.60)" font-family='"Liberation Sans", sans-serif' font-size="17.8" font-weight="400" font-style="normal" fill="#ececec">2</text>
</g>
<line x1="11.00" y1="366.50" x2="47.00" y2="366.50" stroke="#4c4c4c" stroke-width="1.1" stroke-linecap="butt"/>
<clipPath id="rc3"><rect x="11" y="367.5" width="36" height="30.5"/></clipPath>
<g clip-path="url(#rc3)">
<text transform="translate(24.30 394.10)" font-family='"Liberation Sans", sans-serif' font-size="17.8" font-weight="400" font-style="normal" fill="#ececec">3</text>
</g>
<line x1="11.00" y1="398.00" x2="47.00" y2="398.00" stroke="#4c4c4c" stroke-width="1.1" stroke-linecap="butt"/>
<clipPath id="rc4"><rect x="11" y="399.0" width="36" height="22.5"/></clipPath>
<g clip-path="url(#rc4)">
<text transform="translate(24.30 417.60)" font-family='"Liberation Sans", sans-serif' font-size="17.8" font-weight="400" font-style="normal" fill="#ececec">4</text>
</g>
<line x1="11.00" y1="421.50" x2="47.00" y2="421.50" stroke="#4c4c4c" stroke-width="1.1" stroke-linecap="butt"/>
<clipPath id="rc5"><rect x="11" y="422.5" width="36" height="27.5"/></clipPath>
<g clip-path="url(#rc5)">
<text transform="translate(24.30 446.10)" font-family='"Liberation Sans", sans-serif' font-size="17.8" font-weight="400" font-style="normal" fill="#ececec">5</text>
</g>
<line x1="11.00" y1="450.00" x2="47.00" y2="450.00" stroke="#4c4c4c" stroke-width="1.1" stroke-linecap="butt"/>
<clipPath id="rc6"><rect x="11" y="451.0" width="36" height="6.0"/></clipPath>
<g clip-path="url(#rc6)">
<text transform="translate(24.30 453.10)" font-family='"Liberation Sans", sans-serif' font-size="17.8" font-weight="400" font-style="normal" fill="#ececec">6</text>
</g>
<line x1="11.00" y1="457.00" x2="47.00" y2="457.00" stroke="#4c4c4c" stroke-width="1.1" stroke-linecap="butt"/>
<clipPath id="rc7"><rect x="11" y="458.0" width="36" height="31.0"/></clipPath>
<g clip-path="url(#rc7)">
<text transform="translate(24.80 485.10)" font-family='"Liberation Sans", sans-serif' font-size="17.8" font-weight="400" font-style="normal" fill="#ececec">7</text>
</g>
<line x1="11.00" y1="489.00" x2="47.00" y2="489.00" stroke="#4c4c4c" stroke-width="1.1" stroke-linecap="butt"/>
<clipPath id="rc8"><rect x="11" y="490.0" width="36" height="13.0"/></clipPath>
<g clip-path="url(#rc8)">
<text transform="translate(24.30 499.10)" font-family='"Liberation Sans", sans-serif' font-size="17.8" font-weight="400" font-style="normal" fill="#ececec">8</text>
</g>
<line x1="11.00" y1="503.00" x2="47.00" y2="503.00" stroke="#4c4c4c" stroke-width="1.1" stroke-linecap="butt"/>
<clipPath id="rc9"><rect x="11" y="504.0" width="36" height="32.5"/></clipPath>
<g clip-path="url(#rc9)">
<text transform="translate(24.30 532.60)" font-family='"Liberation Sans", sans-serif' font-size="17.8" font-weight="400" font-style="normal" fill="#ececec">9</text>
</g>
<line x1="11.00" y1="536.50" x2="47.00" y2="536.50" stroke="#4c4c4c" stroke-width="1.1" stroke-linecap="butt"/>
<clipPath id="rc10"><rect x="11" y="537.5" width="36" height="10.0"/></clipPath>
<g clip-path="url(#rc10)">
<text transform="translate(18.86 543.60)" font-family='"Liberation Sans", sans-serif' font-size="17.8" font-weight="400" font-style="normal" fill="#ececec">10</text>
</g>
<line x1="11.00" y1="547.50" x2="47.00" y2="547.50" stroke="#4c4c4c" stroke-width="1.1" stroke-linecap="butt"/>
<clipPath id="rc11"><rect x="11" y="548.5" width="36" height="27.5"/></clipPath>
<g clip-path="url(#rc11)">
<text transform="translate(19.52 572.10)" font-family='"Liberation Sans", sans-serif' font-size="17.8" font-weight="400" font-style="normal" fill="#ececec">11</text>
</g>
<line x1="11.00" y1="576.00" x2="47.00" y2="576.00" stroke="#4c4c4c" stroke-width="1.1" stroke-linecap="butt"/>
<clipPath id="rc12"><rect x="11" y="577.0" width="36" height="10.0"/></clipPath>
<g clip-path="url(#rc12)">
<text transform="translate(19.36 583.10)" font-family='"Liberation Sans", sans-serif' font-size="17.8" font-weight="400" font-style="normal" fill="#ececec">12</text>
</g>
<line x1="11.00" y1="587.00" x2="47.00" y2="587.00" stroke="#4c4c4c" stroke-width="1.1" stroke-linecap="butt"/>
<clipPath id="rc13"><rect x="11" y="588.0" width="36" height="23.0"/></clipPath>
<g clip-path="url(#rc13)">
<text transform="translate(18.86 607.10)" font-family='"Liberation Sans", sans-serif' font-size="17.8" font-weight="400" font-style="normal" fill="#ececec">13</text>
</g>
<line x1="11.00" y1="611.00" x2="47.00" y2="611.00" stroke="#4c4c4c" stroke-width="1.1" stroke-linecap="butt"/>
<clipPath id="rc14"><rect x="11" y="612.0" width="36" height="23.0"/></clipPath>
<g clip-path="url(#rc14)">
<text transform="translate(18.86 631.10)" font-family='"Liberation Sans", sans-serif' font-size="17.8" font-weight="400" font-style="normal" fill="#ececec">14</text>
</g>
<line x1="11.00" y1="635.00" x2="47.00" y2="635.00" stroke="#4c4c4c" stroke-width="1.1" stroke-linecap="butt"/>
<clipPath id="rc15"><rect x="11" y="636.0" width="36" height="23.0"/></clipPath>
<g clip-path="url(#rc15)">
<text transform="translate(18.86 655.10)" font-family='"Liberation Sans", sans-serif' font-size="17.8" font-weight="400" font-style="normal" fill="#ececec">15</text>
</g>
<line x1="11.00" y1="659.00" x2="47.00" y2="659.00" stroke="#4c4c4c" stroke-width="1.1" stroke-linecap="butt"/>
<clipPath id="rc16"><rect x="11" y="660.0" width="36" height="23.0"/></clipPath>
<g clip-path="url(#rc16)">
<text transform="translate(18.86 679.10)" font-family='"Liberation Sans", sans-serif' font-size="17.8" font-weight="400" font-style="normal" fill="#ececec">16</text>
</g>
<line x1="11.00" y1="683.00" x2="47.00" y2="683.00" stroke="#4c4c4c" stroke-width="1.1" stroke-linecap="butt"/>
<clipPath id="rc17"><rect x="11" y="684.0" width="36" height="23.5"/></clipPath>
<g clip-path="url(#rc17)">
<text transform="translate(19.36 703.60)" font-family='"Liberation Sans", sans-serif' font-size="17.8" font-weight="400" font-style="normal" fill="#ececec">17</text>
</g>
<line x1="11.00" y1="707.50" x2="47.00" y2="707.50" stroke="#4c4c4c" stroke-width="1.1" stroke-linecap="butt"/>
<clipPath id="rc18"><rect x="11" y="708.5" width="36" height="9.8"/></clipPath>
<g clip-path="url(#rc18)">
<text transform="translate(18.86 714.40)" font-family='"Liberation Sans", sans-serif' font-size="17.8" font-weight="400" font-style="normal" fill="#ececec">18</text>
</g>
<line x1="11.00" y1="718.30" x2="47.00" y2="718.30" stroke="#4c4c4c" stroke-width="1.1" stroke-linecap="butt"/>
<clipPath id="rc19"><rect x="11" y="719.3" width="36" height="21.3"/></clipPath>
<g clip-path="url(#rc19)">
<text transform="translate(18.86 736.70)" font-family='"Liberation Sans", sans-serif' font-size="17.8" font-weight="400" font-style="normal" fill="#ececec">19</text>
</g>
<line x1="11.00" y1="740.60" x2="47.00" y2="740.60" stroke="#4c4c4c" stroke-width="1.1" stroke-linecap="butt"/>
<clipPath id="rc20"><rect x="11" y="741.6" width="36" height="9.7"/></clipPath>
<g clip-path="url(#rc20)">
<text transform="translate(19.36 747.40)" font-family='"Liberation Sans", sans-serif' font-size="17.8" font-weight="400" font-style="normal" fill="#ececec">20</text>
</g>
<line x1="11.00" y1="751.30" x2="47.00" y2="751.30" stroke="#4c4c4c" stroke-width="1.1" stroke-linecap="butt"/>
<clipPath id="rc21"><rect x="11" y="752.3" width="36" height="21.2"/></clipPath>
<g clip-path="url(#rc21)">
<text transform="translate(19.36 769.60)" font-family='"Liberation Sans", sans-serif' font-size="17.8" font-weight="400" font-style="normal" fill="#ececec">21</text>
</g>
<line x1="11.00" y1="773.50" x2="47.00" y2="773.50" stroke="#4c4c4c" stroke-width="1.1" stroke-linecap="butt"/>
<clipPath id="rc22"><rect x="11" y="774.5" width="36" height="9.8"/></clipPath>
<g clip-path="url(#rc22)">
<text transform="translate(19.86 780.40)" font-family='"Liberation Sans", sans-serif' font-size="17.8" font-weight="400" font-style="normal" fill="#ececec">22</text>
</g>
<line x1="11.00" y1="784.30" x2="47.00" y2="784.30" stroke="#4c4c4c" stroke-width="1.1" stroke-linecap="butt"/>
<clipPath id="rc23"><rect x="11" y="785.3" width="36" height="21.3"/></clipPath>
<g clip-path="url(#rc23)">
<text transform="translate(19.36 802.70)" font-family='"Liberation Sans", sans-serif' font-size="17.8" font-weight="400" font-style="normal" fill="#ececec">23</text>
</g>
<line x1="11.00" y1="806.60" x2="47.00" y2="806.60" stroke="#4c4c4c" stroke-width="1.1" stroke-linecap="butt"/>
<clipPath id="rc24"><rect x="11" y="807.6" width="36" height="20.6"/></clipPath>
<g clip-path="url(#rc24)">
<text transform="translate(19.36 824.30)" font-family='"Liberation Sans", sans-serif' font-size="17.8" font-weight="400" font-style="normal" fill="#ececec">24</text>
</g>
<line x1="11.00" y1="828.20" x2="47.00" y2="828.20" stroke="#4c4c4c" stroke-width="1.1" stroke-linecap="butt"/>
<clipPath id="rc25"><rect x="11" y="829.2" width="36" height="21.1"/></clipPath>
<g clip-path="url(#rc25)">
<text transform="translate(19.36 846.40)" font-family='"Liberation Sans", sans-serif' font-size="17.8" font-weight="400" font-style="normal" fill="#ececec">25</text>
</g>
<line x1="11.00" y1="850.30" x2="47.00" y2="850.30" stroke="#4c4c4c" stroke-width="1.1" stroke-linecap="butt"/>
<clipPath id="rc26"><rect x="11" y="851.3" width="36" height="21.4"/></clipPath>
<g clip-path="url(#rc26)">
<text transform="translate(19.36 868.80)" font-family='"Liberation Sans", sans-serif' font-size="17.8" font-weight="400" font-style="normal" fill="#ececec">26</text>
</g>
<line x1="11.00" y1="872.70" x2="47.00" y2="872.70" stroke="#4c4c4c" stroke-width="1.1" stroke-linecap="butt"/>
<clipPath id="rc27"><rect x="11" y="873.7" width="36" height="20.6"/></clipPath>
<g clip-path="url(#rc27)">
<text transform="translate(19.86 890.40)" font-family='"Liberation Sans", sans-serif' font-size="17.8" font-weight="400" font-style="normal" fill="#ececec">27</text>
</g>
<line x1="11.00" y1="894.30" x2="47.00" y2="894.30" stroke="#4c4c4c" stroke-width="1.1" stroke-linecap="butt"/>
<clipPath id="rc28"><rect x="11" y="895.3" width="36" height="21.4"/></clipPath>
<g clip-path="url(#rc28)">
<text transform="translate(19.36 912.80)" font-family='"Liberation Sans", sans-serif' font-size="17.8" font-weight="400" font-style="normal" fill="#ececec">28</text>
</g>
<line x1="11.00" y1="916.70" x2="47.00" y2="916.70" stroke="#4c4c4c" stroke-width="1.1" stroke-linecap="butt"/>
<clipPath id="rc29"><rect x="11" y="917.7" width="36" height="20.7"/></clipPath>
<g clip-path="url(#rc29)">
<text transform="translate(19.36 934.50)" font-family='"Liberation Sans", sans-serif' font-size="17.8" font-weight="400" font-style="normal" fill="#ececec">29</text>
</g>
<line x1="11.00" y1="938.40" x2="47.00" y2="938.40" stroke="#4c4c4c" stroke-width="1.1" stroke-linecap="butt"/>
<clipPath id="rc30"><rect x="11" y="939.4" width="36" height="20.6"/></clipPath>
<g clip-path="url(#rc30)">
<text transform="translate(19.36 956.10)" font-family='"Liberation Sans", sans-serif' font-size="17.8" font-weight="400" font-style="normal" fill="#ececec">30</text>
</g>
<line x1="11.00" y1="960.00" x2="47.00" y2="960.00" stroke="#4c4c4c" stroke-width="1.1" stroke-linecap="butt"/>
<clipPath id="rc31"><rect x="11" y="961.0" width="36" height="21.0"/></clipPath>
<g clip-path="url(#rc31)">
<text transform="translate(19.36 978.10)" font-family='"Liberation Sans", sans-serif' font-size="17.8" font-weight="400" font-style="normal" fill="#ececec">31</text>
</g>
<line x1="11.00" y1="982.00" x2="47.00" y2="982.00" stroke="#4c4c4c" stroke-width="1.1" stroke-linecap="butt"/>
<clipPath id="rc32"><rect x="11" y="983.0" width="36" height="21.5"/></clipPath>
<g clip-path="url(#rc32)">
<text transform="translate(19.86 1000.60)" font-family='"Liberation Sans", sans-serif' font-size="17.8" font-weight="400" font-style="normal" fill="#ececec">32</text>
</g>
<line x1="11.00" y1="1004.50" x2="47.00" y2="1004.50" stroke="#4c4c4c" stroke-width="1.1" stroke-linecap="butt"/>
<clipPath id="rc33"><rect x="11" y="1005.5" width="36" height="20.5"/></clipPath>
<g clip-path="url(#rc33)">
<text transform="translate(19.36 1022.10)" font-family='"Liberation Sans", sans-serif' font-size="17.8" font-weight="400" font-style="normal" fill="#ececec">33</text>
</g>
<line x1="11.00" y1="1026.00" x2="47.00" y2="1026.00" stroke="#4c4c4c" stroke-width="1.1" stroke-linecap="butt"/>
<clipPath id="rc34"><rect x="11" y="1027.0" width="36" height="20.5"/></clipPath>
<g clip-path="url(#rc34)">
<text transform="translate(19.36 1043.60)" font-family='"Liberation Sans", sans-serif' font-size="17.8" font-weight="400" font-style="normal" fill="#ececec">34</text>
</g>
<line x1="11.00" y1="1047.50" x2="47.00" y2="1047.50" stroke="#4c4c4c" stroke-width="1.1" stroke-linecap="butt"/>
<clipPath id="rc35"><rect x="11" y="1048.5" width="36" height="32.5"/></clipPath>
<g clip-path="url(#rc35)">
<text transform="translate(19.36 1077.10)" font-family='"Liberation Sans", sans-serif' font-size="17.8" font-weight="400" font-style="normal" fill="#ececec">35</text>
</g>
<line x1="11.00" y1="1081.00" x2="47.00" y2="1081.00" stroke="#4c4c4c" stroke-width="1.1" stroke-linecap="butt"/>
<clipPath id="rc36"><rect x="11" y="1082.0" width="36" height="21.0"/></clipPath>
<g clip-path="url(#rc36)">
<text transform="translate(19.36 1099.10)" font-family='"Liberation Sans", sans-serif' font-size="17.8" font-weight="400" font-style="normal" fill="#ececec">36</text>
</g>
<line x1="11.00" y1="1103.00" x2="47.00" y2="1103.00" stroke="#4c4c4c" stroke-width="1.1" stroke-linecap="butt"/>
<clipPath id="rc37"><rect x="11" y="1104.0" width="36" height="22.0"/></clipPath>
<g clip-path="url(#rc37)">
<text transform="translate(19.86 1122.10)" font-family='"Liberation Sans", sans-serif' font-size="17.8" font-weight="400" font-style="normal" fill="#ececec">37</text>
</g>
<line x1="11.00" y1="1126.00" x2="47.00" y2="1126.00" stroke="#4c4c4c" stroke-width="1.1" stroke-linecap="butt"/>
<clipPath id="rc38"><rect x="11" y="1127.0" width="36" height="22.0"/></clipPath>
<g clip-path="url(#rc38)">
<text transform="translate(19.36 1145.10)" font-family='"Liberation Sans", sans-serif' font-size="17.8" font-weight="400" font-style="normal" fill="#ececec">38</text>
</g>
<line x1="11.00" y1="1149.00" x2="47.00" y2="1149.00" stroke="#4c4c4c" stroke-width="1.1" stroke-linecap="butt"/>
<clipPath id="rc39"><rect x="11" y="1150.0" width="36" height="22.0"/></clipPath>
<g clip-path="url(#rc39)">
<text transform="translate(19.36 1168.10)" font-family='"Liberation Sans", sans-serif' font-size="17.8" font-weight="400" font-style="normal" fill="#ececec">39</text>
</g>
<line x1="11.00" y1="1172.00" x2="47.00" y2="1172.00" stroke="#4c4c4c" stroke-width="1.1" stroke-linecap="butt"/>
<clipPath id="rc40"><rect x="11" y="1173.0" width="36" height="22.0"/></clipPath>
<g clip-path="url(#rc40)">
<text transform="translate(19.36 1191.10)" font-family='"Liberation Sans", sans-serif' font-size="17.8" font-weight="400" font-style="normal" fill="#ececec">40</text>
</g>
<line x1="11.00" y1="1195.00" x2="47.00" y2="1195.00" stroke="#4c4c4c" stroke-width="1.1" stroke-linecap="butt"/>
<clipPath id="rc41"><rect x="11" y="1196.0" width="36" height="22.0"/></clipPath>
<g clip-path="url(#rc41)">
<text transform="translate(19.36 1214.10)" font-family='"Liberation Sans", sans-serif' font-size="17.8" font-weight="400" font-style="normal" fill="#ececec">41</text>
</g>
<line x1="11.00" y1="1218.00" x2="47.00" y2="1218.00" stroke="#4c4c4c" stroke-width="1.1" stroke-linecap="butt"/>
<clipPath id="rc42"><rect x="11" y="1219.0" width="36" height="22.0"/></clipPath>
<g clip-path="url(#rc42)">
<text transform="translate(19.86 1237.10)" font-family='"Liberation Sans", sans-serif' font-size="17.8" font-weight="400" font-style="normal" fill="#ececec">42</text>
</g>
<line x1="11.00" y1="1241.00" x2="47.00" y2="1241.00" stroke="#4c4c4c" stroke-width="1.1" stroke-linecap="butt"/>
<clipPath id="rc43"><rect x="11" y="1242.0" width="36" height="22.0"/></clipPath>
<g clip-path="url(#rc43)">
<text transform="translate(19.36 1260.10)" font-family='"Liberation Sans", sans-serif' font-size="17.8" font-weight="400" font-style="normal" fill="#ececec">43</text>
</g>
<line x1="11.00" y1="1264.00" x2="47.00" y2="1264.00" stroke="#4c4c4c" stroke-width="1.1" stroke-linecap="butt"/>
<clipPath id="rc44"><rect x="11" y="1265.0" width="36" height="22.0"/></clipPath>
<g clip-path="url(#rc44)">
<text transform="translate(19.36 1283.10)" font-family='"Liberation Sans", sans-serif' font-size="17.8" font-weight="400" font-style="normal" fill="#ececec">44</text>
</g>
<line x1="11.00" y1="1287.00" x2="47.00" y2="1287.00" stroke="#4c4c4c" stroke-width="1.1" stroke-linecap="butt"/>
<clipPath id="rc45"><rect x="11" y="1288.0" width="36" height="22.0"/></clipPath>
<g clip-path="url(#rc45)">
<text transform="translate(19.36 1306.10)" font-family='"Liberation Sans", sans-serif' font-size="17.8" font-weight="400" font-style="normal" fill="#ececec">45</text>
</g>
<line x1="11.00" y1="1310.00" x2="47.00" y2="1310.00" stroke="#4c4c4c" stroke-width="1.1" stroke-linecap="butt"/>
<clipPath id="rc46"><rect x="11" y="1311.0" width="36" height="22.0"/></clipPath>
<g clip-path="url(#rc46)">
<text transform="translate(19.36 1329.10)" font-family='"Liberation Sans", sans-serif' font-size="17.8" font-weight="400" font-style="normal" fill="#ececec">46</text>
</g>
<line x1="11.00" y1="1333.00" x2="47.00" y2="1333.00" stroke="#4c4c4c" stroke-width="1.1" stroke-linecap="butt"/>
<clipPath id="rc47"><rect x="11" y="1334.0" width="36" height="22.0"/></clipPath>
<g clip-path="url(#rc47)">
<text transform="translate(19.86 1352.10)" font-family='"Liberation Sans", sans-serif' font-size="17.8" font-weight="400" font-style="normal" fill="#ececec">47</text>
</g>
<line x1="11.00" y1="1356.00" x2="47.00" y2="1356.00" stroke="#4c4c4c" stroke-width="1.1" stroke-linecap="butt"/>
<clipPath id="rc48"><rect x="11" y="1357.0" width="36" height="22.0"/></clipPath>
<g clip-path="url(#rc48)">
<text transform="translate(19.36 1375.10)" font-family='"Liberation Sans", sans-serif' font-size="17.8" font-weight="400" font-style="normal" fill="#ececec">48</text>
</g>
<line x1="11.00" y1="1379.00" x2="47.00" y2="1379.00" stroke="#4c4c4c" stroke-width="1.1" stroke-linecap="butt"/>
<clipPath id="rc49"><rect x="11" y="1380.0" width="36" height="22.0"/></clipPath>
<g clip-path="url(#rc49)">
<text transform="translate(19.36 1398.10)" font-family='"Liberation Sans", sans-serif' font-size="17.8" font-weight="400" font-style="normal" fill="#ececec">49</text>
</g>
<line x1="11.00" y1="1402.00" x2="47.00" y2="1402.00" stroke="#4c4c4c" stroke-width="1.1" stroke-linecap="butt"/>
<clipPath id="rc50"><rect x="11" y="1403.0" width="36" height="22.0"/></clipPath>
<g clip-path="url(#rc50)">
<text transform="translate(19.36 1421.10)" font-family='"Liberation Sans", sans-serif' font-size="17.8" font-weight="400" font-style="normal" fill="#ececec">50</text>
</g>
<line x1="11.00" y1="1425.00" x2="47.00" y2="1425.00" stroke="#4c4c4c" stroke-width="1.1" stroke-linecap="butt"/>
<clipPath id="rc51"><rect x="11" y="1426.0" width="36" height="22.0"/></clipPath>
<g clip-path="url(#rc51)">
<text transform="translate(19.36 1444.10)" font-family='"Liberation Sans", sans-serif' font-size="17.8" font-weight="400" font-style="normal" fill="#ececec">51</text>
</g>
<line x1="11.00" y1="1448.00" x2="47.00" y2="1448.00" stroke="#4c4c4c" stroke-width="1.1" stroke-linecap="butt"/>
<clipPath id="rc52"><rect x="11" y="1449.0" width="36" height="22.0"/></clipPath>
<g clip-path="url(#rc52)">
<text transform="translate(19.86 1467.10)" font-family='"Liberation Sans", sans-serif' font-size="17.8" font-weight="400" font-style="normal" fill="#ececec">52</text>
</g>
<line x1="11.00" y1="1471.00" x2="47.00" y2="1471.00" stroke="#4c4c4c" stroke-width="1.1" stroke-linecap="butt"/>
<clipPath id="rc53"><rect x="11" y="1472.0" width="36" height="22.0"/></clipPath>
<g clip-path="url(#rc53)">
<text transform="translate(19.36 1490.10)" font-family='"Liberation Sans", sans-serif' font-size="17.8" font-weight="400" font-style="normal" fill="#ececec">53</text>
</g>
<line x1="11.00" y1="1494.00" x2="47.00" y2="1494.00" stroke="#4c4c4c" stroke-width="1.1" stroke-linecap="butt"/>
<clipPath id="rc54"><rect x="11" y="1495.0" width="36" height="22.0"/></clipPath>
<g clip-path="url(#rc54)">
<text transform="translate(19.36 1513.10)" font-family='"Liberation Sans", sans-serif' font-size="17.8" font-weight="400" font-style="normal" fill="#ececec">54</text>
</g>
<line x1="11.00" y1="1517.00" x2="47.00" y2="1517.00" stroke="#4c4c4c" stroke-width="1.1" stroke-linecap="butt"/>
<clipPath id="rc55"><rect x="11" y="1518.0" width="36" height="22.0"/></clipPath>
<g clip-path="url(#rc55)">
<text transform="translate(19.36 1536.10)" font-family='"Liberation Sans", sans-serif' font-size="17.8" font-weight="400" font-style="normal" fill="#ececec">55</text>
</g>
<line x1="11.00" y1="1540.00" x2="47.00" y2="1540.00" stroke="#4c4c4c" stroke-width="1.1" stroke-linecap="butt"/>
<clipPath id="rc56"><rect x="11" y="1541.0" width="36" height="22.0"/></clipPath>
<g clip-path="url(#rc56)">
<text transform="translate(19.36 1559.10)" font-family='"Liberation Sans", sans-serif' font-size="17.8" font-weight="400" font-style="normal" fill="#ececec">56</text>
</g>
<line x1="11.00" y1="1563.00" x2="47.00" y2="1563.00" stroke="#4c4c4c" stroke-width="1.1" stroke-linecap="butt"/>
<clipPath id="rc57"><rect x="11" y="1564.0" width="36" height="22.0"/></clipPath>
<g clip-path="url(#rc57)">
<text transform="translate(19.86 1582.10)" font-family='"Liberation Sans", sans-serif' font-size="17.8" font-weight="400" font-style="normal" fill="#ececec">57</text>
</g>
<line x1="11.00" y1="1586.00" x2="47.00" y2="1586.00" stroke="#4c4c4c" stroke-width="1.1" stroke-linecap="butt"/>
<clipPath id="rc58"><rect x="11" y="1587.0" width="36" height="22.0"/></clipPath>
<g clip-path="url(#rc58)">
<text transform="translate(19.36 1605.10)" font-family='"Liberation Sans", sans-serif' font-size="17.8" font-weight="400" font-style="normal" fill="#ececec">58</text>
</g>
<line x1="11.00" y1="1609.00" x2="47.00" y2="1609.00" stroke="#4c4c4c" stroke-width="1.1" stroke-linecap="butt"/>
<clipPath id="rc59"><rect x="11" y="1610.0" width="36" height="22.0"/></clipPath>
<g clip-path="url(#rc59)">
<text transform="translate(19.36 1628.10)" font-family='"Liberation Sans", sans-serif' font-size="17.8" font-weight="400" font-style="normal" fill="#ececec">59</text>
</g>
<line x1="11.00" y1="1632.00" x2="47.00" y2="1632.00" stroke="#4c4c4c" stroke-width="1.1" stroke-linecap="butt"/>
<clipPath id="rc60"><rect x="11" y="1633.0" width="36" height="22.0"/></clipPath>
<g clip-path="url(#rc60)">
<text transform="translate(19.36 1651.10)" font-family='"Liberation Sans", sans-serif' font-size="17.8" font-weight="400" font-style="normal" fill="#ececec">60</text>
</g>
<line x1="11.00" y1="1655.00" x2="47.00" y2="1655.00" stroke="#4c4c4c" stroke-width="1.1" stroke-linecap="butt"/>
<clipPath id="rc61"><rect x="11" y="1656.0" width="36" height="22.0"/></clipPath>
<g clip-path="url(#rc61)">
<text transform="translate(19.36 1674.10)" font-family='"Liberation Sans", sans-serif' font-size="17.8" font-weight="400" font-style="normal" fill="#ececec">61</text>
</g>
<line x1="11.00" y1="1678.00" x2="47.00" y2="1678.00" stroke="#4c4c4c" stroke-width="1.1" stroke-linecap="butt"/>
</svg></div>
<div class="rg " id="sheet" style="left:47px;top:300px;width:2813px;height:1370px;background:#ffffff;">
<svg width="2813" height="1370" viewBox="47 300 2813 1370">
<rect x="45.80" y="300.00" width="1.80" height="35.40" fill="#1f7a45"/>
<text transform="translate(75.54 328.80) scale(1.0613 1)" font-family='"DejaVu Sans Condensed", "DejaVu Sans", "Liberation Sans", sans-serif' font-size="28.6" font-weight="700" font-style="normal" fill="#1f1f1f" stroke="#1f1f1f" stroke-width="0.45">Scenario Analysis</text>
<text transform="translate(75.80 360.70) scale(1.0042 1)" font-family='"DejaVu Sans Condensed", "DejaVu Sans", "Liberation Sans", sans-serif' font-size="26.4" font-weight="700" font-style="normal" fill="#000" stroke="#000" stroke-width="0.45">ABC Company Inc.</text>
<text transform="translate(74.00 388.50) scale(1.0062 1)" font-family='"DejaVu Sans Condensed", "DejaVu Sans", "Liberation Sans", sans-serif' font-size="17.6" font-weight="700" font-style="normal" fill="#2b6de0" stroke="#2b6de0" stroke-width="0.45">Go to Table of Contents</text>
<line x1="74.00" y1="391.70" x2="284.00" y2="391.70" stroke="#2b6de0" stroke-width="1.6" stroke-linecap="butt"/>
<line x1="47.00" y1="421.40" x2="2860.00" y2="421.40" stroke="#9a9a9a" stroke-width="1.2" stroke-linecap="butt"/>
<rect x="70.00" y="422.00" width="606.00" height="27.70" fill="#4a4fd0"/>
<text transform="translate(198.72 443.60) scale(1.0764 1)" font-family='"DejaVu Sans Condensed", "DejaVu Sans", "Liberation Sans", sans-serif' font-size="20.7" font-weight="700" font-style="normal" fill="#ffffff" stroke="#ffffff" stroke-width="0.45">5-Years Revenue ($&#x27;000) - Base</text>
<rect x="70.60" y="457.60" width="605.40" height="30.90" fill="#49b2e6"/>
<text transform="translate(339.66 479.40) scale(1.0442 1)" font-family='"DejaVu Sans Condensed", "DejaVu Sans", "Liberation Sans", sans-serif' font-size="20.0" font-weight="700" font-style="normal" fill="#ffffff" stroke="#ffffff" stroke-width="0.45">7,832</text>
<rect x="854.20" y="422.00" width="606.60" height="27.70" fill="#4a4fd0"/>
<text transform="translate(958.73 443.60) scale(1.0709 1)" font-family='"DejaVu Sans Condensed", "DejaVu Sans", "Liberation Sans", sans-serif' font-size="20.7" font-weight="700" font-style="normal" fill="#ffffff" stroke="#ffffff" stroke-width="0.45">5-Years Gross Margin ($&#x27;000) - Base</text>
<rect x="854.80" y="457.60" width="606.00" height="30.90" fill="#49b2e6"/>
<text transform="translate(1123.75 479.40) scale(1.0479 1)" font-family='"DejaVu Sans Condensed", "DejaVu Sans", "Liberation Sans", sans-serif' font-size="20.0" font-weight="700" font-style="normal" fill="#ffffff" stroke="#ffffff" stroke-width="0.45">7,012</text>
<rect x="1639.20" y="422.00" width="576.80" height="27.70" fill="#4a4fd0"/>
<text transform="translate(1758.71 443.60) scale(1.0910 1)" font-family='"DejaVu Sans Condensed", "DejaVu Sans", "Liberation Sans", sans-serif' font-size="20.7" font-weight="700" font-style="normal" fill="#ffffff" stroke="#ffffff" stroke-width="0.45">5-Years EBITDA ($&#x27;000) - Base</text>
<rect x="1639.80" y="457.60" width="576.20" height="30.90" fill="#49b2e6"/>
<text transform="translate(1893.88 479.40) scale(1.0218 1)" font-family='"DejaVu Sans Condensed", "DejaVu Sans", "Liberation Sans", sans-serif' font-size="20.0" font-weight="700" font-style="normal" fill="#ffffff" stroke="#ffffff" stroke-width="0.45">3,478</text>
<rect x="70.00" y="503.20" width="1043.80" height="33.50" fill="#4a4fd0"/>
<text transform="translate(199.23 529.50) scale(1.0723 1)" font-family='"DejaVu Sans Condensed", "DejaVu Sans", "Liberation Sans", sans-serif' font-size="24.2" font-weight="700" font-style="normal" fill="#ffffff" stroke="#ffffff" stroke-width="0.45">Gross Margin Scenarios ($&#x27;000) - 5 years to December 2030</text>
<rect x="1157.00" y="503.20" width="1059.00" height="33.50" fill="#4a4fd0"/>
<text transform="translate(1322.85 529.50) scale(1.0763 1)" font-family='"DejaVu Sans Condensed", "DejaVu Sans", "Liberation Sans", sans-serif' font-size="24.2" font-weight="700" font-style="normal" fill="#ffffff" stroke="#ffffff" stroke-width="0.45">Revenue Scenarios ($&#x27;000) - 5 years to December 2030</text>
<rect x="70.00" y="1047.30" width="1043.80" height="33.30" fill="#4a4fd0"/>
<text transform="translate(153.12 1073.60) scale(1.0751 1)" font-family='"DejaVu Sans Condensed", "DejaVu Sans", "Liberation Sans", sans-serif' font-size="24.2" font-weight="700" font-style="normal" fill="#ffffff" stroke="#ffffff" stroke-width="0.45">Contribution Margin Scenarios ($&#x27;000) - 5 years to December 2030</text>
<rect x="1157.00" y="1047.30" width="1059.00" height="33.30" fill="#4a4fd0"/>
<text transform="translate(1328.63 1073.60) scale(1.0864 1)" font-family='"DejaVu Sans Condensed", "DejaVu Sans", "Liberation Sans", sans-serif' font-size="24.2" font-weight="700" font-style="normal" fill="#ffffff" stroke="#ffffff" stroke-width="0.45">EBITDA Scenarios ($&#x27;000) - 5 years to December 2030</text>
<line x1="147.20" y1="686.16" x2="1059.00" y2="686.16" stroke="#62aeda" stroke-width="1.1" stroke-linecap="butt"/>
<line x1="147.20" y1="760.52" x2="1059.00" y2="760.52" stroke="#62aeda" stroke-width="1.1" stroke-linecap="butt"/>
<line x1="147.20" y1="834.88" x2="1059.00" y2="834.88" stroke="#62aeda" stroke-width="1.1" stroke-linecap="butt"/>
<line x1="147.20" y1="909.24" x2="1059.00" y2="909.24" stroke="#62aeda" stroke-width="1.1" stroke-linecap="butt"/>
<line x1="329.56" y1="611.80" x2="329.56" y2="983.60" stroke="#62aeda" stroke-width="1.1" stroke-linecap="butt"/>
<line x1="511.92" y1="611.80" x2="511.92" y2="983.60" stroke="#62aeda" stroke-width="1.1" stroke-linecap="butt"/>
<line x1="694.28" y1="611.80" x2="694.28" y2="983.60" stroke="#62aeda" stroke-width="1.1" stroke-linecap="butt"/>
<line x1="876.64" y1="611.80" x2="876.64" y2="983.60" stroke="#62aeda" stroke-width="1.1" stroke-linecap="butt"/>
<rect x="147.20" y="611.80" width="911.80" height="371.80" fill="none" stroke="#46a2d6" stroke-width="1.9"/>
<line x1="147.20" y1="983.60" x2="147.20" y2="989.10" stroke="#46a2d6" stroke-width="1.2" stroke-linecap="butt"/>
<line x1="329.56" y1="983.60" x2="329.56" y2="989.10" stroke="#46a2d6" stroke-width="1.2" stroke-linecap="butt"/>
<line x1="511.92" y1="983.60" x2="511.92" y2="989.10" stroke="#46a2d6" stroke-width="1.2" stroke-linecap="butt"/>
<line x1="694.28" y1="983.60" x2="694.28" y2="989.10" stroke="#46a2d6" stroke-width="1.2" stroke-linecap="butt"/>
<line x1="876.64" y1="983.60" x2="876.64" y2="989.10" stroke="#46a2d6" stroke-width="1.2" stroke-linecap="butt"/>
<line x1="1059.00" y1="983.60" x2="1059.00" y2="989.10" stroke="#46a2d6" stroke-width="1.2" stroke-linecap="butt"/>
<text transform="translate(75.85 618.10) scale(0.9780 1)" font-family='"DejaVu Sans Condensed", "DejaVu Sans", "Liberation Sans", sans-serif' font-size="17.6" font-weight="700" font-style="normal" fill="#000" stroke="#000" stroke-width="0.45">2,500</text>
<text transform="translate(75.85 692.46) scale(0.9780 1)" font-family='"DejaVu Sans Condensed", "DejaVu Sans", "Liberation Sans", sans-serif' font-size="17.6" font-weight="700" font-style="normal" fill="#000" stroke="#000" stroke-width="0.45">2,000</text>
<text transform="translate(75.85 766.82) scale(0.9780 1)" font-family='"DejaVu Sans Condensed", "DejaVu Sans", "Liberation Sans", sans-serif' font-size="17.6" font-weight="700" font-style="normal" fill="#000" stroke="#000" stroke-width="0.45">1,500</text>
<text transform="translate(75.85 841.18) scale(0.9780 1)" font-family='"DejaVu Sans Condensed", "DejaVu Sans", "Liberation Sans", sans-serif' font-size="17.6" font-weight="700" font-style="normal" fill="#000" stroke="#000" stroke-width="0.45">1,000</text>
<text transform="translate(92.50 915.54) scale(0.9780 1)" font-family='"DejaVu Sans Condensed", "DejaVu Sans", "Liberation Sans", sans-serif' font-size="17.6" font-weight="700" font-style="normal" fill="#000" stroke="#000" stroke-width="0.45">500</text>
<text transform="translate(118.93 989.90) scale(0.9780 1)" font-family='"DejaVu Sans Condensed", "DejaVu Sans", "Liberation Sans", sans-serif' font-size="17.6" font-weight="700" font-style="normal" fill="#000" stroke="#000" stroke-width="0.45">-</text>
<text transform="translate(216.02 1033.80) scale(0.9850 1)" font-family='"DejaVu Sans Condensed", "DejaVu Sans", "Liberation Sans", sans-serif' font-size="17.6" font-weight="700" font-style="normal" fill="#000" stroke="#000" stroke-width="0.45">2026</text>
<text transform="translate(398.51 1033.80) scale(0.9850 1)" font-family='"DejaVu Sans Condensed", "DejaVu Sans", "Liberation Sans", sans-serif' font-size="17.6" font-weight="700" font-style="normal" fill="#000" stroke="#000" stroke-width="0.45">2027</text>
<text transform="translate(580.62 1033.80) scale(0.9850 1)" font-family='"DejaVu Sans Condensed", "DejaVu Sans", "Liberation Sans", sans-serif' font-size="17.6" font-weight="700" font-style="normal" fill="#000" stroke="#000" stroke-width="0.45">2028</text>
<text transform="translate(762.82 1033.80) scale(0.9850 1)" font-family='"DejaVu Sans Condensed", "DejaVu Sans", "Liberation Sans", sans-serif' font-size="17.6" font-weight="700" font-style="normal" fill="#000" stroke="#000" stroke-width="0.45">2029</text>
<text transform="translate(944.82 1033.80) scale(0.9850 1)" font-family='"DejaVu Sans Condensed", "DejaVu Sans", "Liberation Sans", sans-serif' font-size="17.6" font-weight="700" font-style="normal" fill="#000" stroke="#000" stroke-width="0.45">2030</text>
<path d="M238.2 885.6 L420.2 841.6 L602.8 798.0 L785.0 760.0 L967.0 715.4" fill="none" stroke="#ea786c" stroke-width="2.7" stroke-linecap="round" stroke-linejoin="round"/>
<path d="M238.2 872.0 L420.2 822.1 L602.8 774.0 L785.0 728.3 L967.0 679.4" fill="none" stroke="#4bb0e6" stroke-width="2.7" stroke-linecap="round" stroke-linejoin="round"/>
<path d="M238.2 857.2 L420.2 801.4 L602.8 747.6 L785.0 695.3 L967.0 641.6" fill="none" stroke="#2eb3a0" stroke-width="2.7" stroke-linecap="round" stroke-linejoin="round"/>
<path d="M238.2 878.4 L245.0 891.6 L231.4 891.6 z" fill="#ea786c"/>
<path d="M420.2 834.4 L427.0 847.6 L413.4 847.6 z" fill="#ea786c"/>
<path d="M602.8 790.8 L609.6 804.0 L596.0 804.0 z" fill="#ea786c"/>
<path d="M785.0 752.8 L791.8 766.0 L778.2 766.0 z" fill="#ea786c"/>
<path d="M967.0 708.2 L973.8 721.4 L960.2 721.4 z" fill="#ea786c"/>
<path d="M238.2 865.0 L245.2 872.0 L238.2 879.0 L231.2 872.0 z" fill="#4bb0e6"/>
<path d="M420.2 815.1 L427.2 822.1 L420.2 829.1 L413.2 822.1 z" fill="#4bb0e6"/>
<path d="M602.8 767.0 L609.8 774.0 L602.8 781.0 L595.8 774.0 z" fill="#4bb0e6"/>
<path d="M785.0 721.3 L792.0 728.3 L785.0 735.3 L778.0 728.3 z" fill="#4bb0e6"/>
<path d="M967.0 672.4 L974.0 679.4 L967.0 686.4 L960.0 679.4 z" fill="#4bb0e6"/>
<rect x="231.80" y="850.80" width="12.80" height="12.80" fill="#2eb3a0"/>
<rect x="413.80" y="795.00" width="12.80" height="12.80" fill="#2eb3a0"/>
<rect x="596.40" y="741.20" width="12.80" height="12.80" fill="#2eb3a0"/>
<rect x="778.60" y="688.90" width="12.80" height="12.80" fill="#2eb3a0"/>
<rect x="960.60" y="635.20" width="12.80" height="12.80" fill="#2eb3a0"/>
<line x1="182.60" y1="571.50" x2="225.80" y2="571.50" stroke="#ea786c" stroke-width="3.0" stroke-linecap="butt"/>
<path d="M204.2 566.3 L209.0 575.5 L199.4 575.5 z" fill="#ea786c"/>
<text transform="translate(230.01 577.70) scale(0.9930 1)" font-family='"DejaVu Sans Condensed", "DejaVu Sans", "Liberation Sans", sans-serif' font-size="17.6" font-weight="700" font-style="normal" fill="#000" stroke="#000" stroke-width="0.45">Low Gross Margin</text>
<line x1="467.50" y1="571.50" x2="512.30" y2="571.50" stroke="#4bb0e6" stroke-width="3.0" stroke-linecap="butt"/>
<path d="M489.9 566.5 L494.9 571.5 L489.9 576.5 L484.9 571.5 z" fill="#4bb0e6"/>
<text transform="translate(515.52 577.70) scale(0.9817 1)" font-family='"DejaVu Sans Condensed", "DejaVu Sans", "Liberation Sans", sans-serif' font-size="17.6" font-weight="700" font-style="normal" fill="#000" stroke="#000" stroke-width="0.45">Base Gross Margin</text>
<line x1="759.70" y1="571.50" x2="803.30" y2="571.50" stroke="#2eb3a0" stroke-width="3.0" stroke-linecap="butt"/>
<rect x="777.10" y="567.10" width="8.80" height="8.80" fill="#2eb3a0"/>
<text transform="translate(806.21 577.70) scale(0.9872 1)" font-family='"DejaVu Sans Condensed", "DejaVu Sans", "Liberation Sans", sans-serif' font-size="17.6" font-weight="700" font-style="normal" fill="#000" stroke="#000" stroke-width="0.45">High Gross Margin</text>
<line x1="1237.20" y1="677.95" x2="2197.90" y2="677.95" stroke="#62aeda" stroke-width="1.1" stroke-linecap="butt"/>
<line x1="1237.20" y1="739.90" x2="2197.90" y2="739.90" stroke="#62aeda" stroke-width="1.1" stroke-linecap="butt"/>
<line x1="1237.20" y1="801.85" x2="2197.90" y2="801.85" stroke="#62aeda" stroke-width="1.1" stroke-linecap="butt"/>
<line x1="1237.20" y1="863.80" x2="2197.90" y2="863.80" stroke="#62aeda" stroke-width="1.1" stroke-linecap="butt"/>
<line x1="1237.20" y1="925.75" x2="2197.90" y2="925.75" stroke="#62aeda" stroke-width="1.1" stroke-linecap="butt"/>
<line x1="1429.34" y1="616.00" x2="1429.34" y2="987.70" stroke="#62aeda" stroke-width="1.1" stroke-linecap="butt"/>
<line x1="1621.48" y1="616.00" x2="1621.48" y2="987.70" stroke="#62aeda" stroke-width="1.1" stroke-linecap="butt"/>
<line x1="1813.62" y1="616.00" x2="1813.62" y2="987.70" stroke="#62aeda" stroke-width="1.1" stroke-linecap="butt"/>
<line x1="2005.76" y1="616.00" x2="2005.76" y2="987.70" stroke="#62aeda" stroke-width="1.1" stroke-linecap="butt"/>
<rect x="1237.20" y="616.00" width="960.70" height="371.70" fill="none" stroke="#46a2d6" stroke-width="1.9"/>
<line x1="1237.20" y1="987.70" x2="1237.20" y2="993.20" stroke="#46a2d6" stroke-width="1.2" stroke-linecap="butt"/>
<line x1="1429.34" y1="987.70" x2="1429.34" y2="993.20" stroke="#46a2d6" stroke-width="1.2" stroke-linecap="butt"/>
<line x1="1621.48" y1="987.70" x2="1621.48" y2="993.20" stroke="#46a2d6" stroke-width="1.2" stroke-linecap="butt"/>
<line x1="1813.62" y1="987.70" x2="1813.62" y2="993.20" stroke="#46a2d6" stroke-width="1.2" stroke-linecap="butt"/>
<line x1="2005.76" y1="987.70" x2="2005.76" y2="993.20" stroke="#46a2d6" stroke-width="1.2" stroke-linecap="butt"/>
<line x1="2197.90" y1="987.70" x2="2197.90" y2="993.20" stroke="#46a2d6" stroke-width="1.2" stroke-linecap="butt"/>
<text transform="translate(1166.35 622.30) scale(0.9780 1)" font-family='"DejaVu Sans Condensed", "DejaVu Sans", "Liberation Sans", sans-serif' font-size="17.6" font-weight="700" font-style="normal" fill="#000" stroke="#000" stroke-width="0.45">3,000</text>
<text transform="translate(1166.35 684.25) scale(0.9780 1)" font-family='"DejaVu Sans Condensed", "DejaVu Sans", "Liberation Sans", sans-serif' font-size="17.6" font-weight="700" font-style="normal" fill="#000" stroke="#000" stroke-width="0.45">2,500</text>
<text transform="translate(1166.35 746.20) scale(0.9780 1)" font-family='"DejaVu Sans Condensed", "DejaVu Sans", "Liberation Sans", sans-serif' font-size="17.6" font-weight="700" font-style="normal" fill="#000" stroke="#000" stroke-width="0.45">2,000</text>
<text transform="translate(1166.35 808.15) scale(0.9780 1)" font-family='"DejaVu Sans Condensed", "DejaVu Sans", "Liberation Sans", sans-serif' font-size="17.6" font-weight="700" font-style="normal" fill="#000" stroke="#000" stroke-width="0.45">1,500</text>
<text transform="translate(1166.35 870.10) scale(0.9780 1)" font-family='"DejaVu Sans Condensed", "DejaVu Sans", "Liberation Sans", sans-serif' font-size="17.6" font-weight="700" font-style="normal" fill="#000" stroke="#000" stroke-width="0.45">1,000</text>
<text transform="translate(1183.00 932.05) scale(0.9780 1)" font-family='"DejaVu Sans Condensed", "DejaVu Sans", "Liberation Sans", sans-serif' font-size="17.6" font-weight="700" font-style="normal" fill="#000" stroke="#000" stroke-width="0.45">500</text>
<text transform="translate(1209.43 994.00) scale(0.9780 1)" font-family='"DejaVu Sans Condensed", "DejaVu Sans", "Liberation Sans", sans-serif' font-size="17.6" font-weight="700" font-style="normal" fill="#000" stroke="#000" stroke-width="0.45">-</text>
<text transform="translate(1310.92 1036.60) scale(0.9850 1)" font-family='"DejaVu Sans Condensed", "DejaVu Sans", "Liberation Sans", sans-serif' font-size="17.6" font-weight="700" font-style="normal" fill="#000" stroke="#000" stroke-width="0.45">2026</text>
<text transform="translate(1503.31 1036.60) scale(0.9850 1)" font-family='"DejaVu Sans Condensed", "DejaVu Sans", "Liberation Sans", sans-serif' font-size="17.6" font-weight="700" font-style="normal" fill="#000" stroke="#000" stroke-width="0.45">2027</text>
<text transform="translate(1694.82 1036.60) scale(0.9850 1)" font-family='"DejaVu Sans Condensed", "DejaVu Sans", "Liberation Sans", sans-serif' font-size="17.6" font-weight="700" font-style="normal" fill="#000" stroke="#000" stroke-width="0.45">2028</text>
<text transform="translate(1886.82 1036.60) scale(0.9850 1)" font-family='"DejaVu Sans Condensed", "DejaVu Sans", "Liberation Sans", sans-serif' font-size="17.6" font-weight="700" font-style="normal" fill="#000" stroke="#000" stroke-width="0.45">2029</text>
<text transform="translate(2078.62 1036.60) scale(0.9850 1)" font-family='"DejaVu Sans Condensed", "DejaVu Sans", "Liberation Sans", sans-serif' font-size="17.6" font-weight="700" font-style="normal" fill="#000" stroke="#000" stroke-width="0.45">2030</text>
<path d="M1333.1 893.7 L1525.0 851.8 L1717.0 811.8 L1909.0 775.4 L2100.8 735.9" fill="none" stroke="#ea786c" stroke-width="2.7" stroke-linecap="round" stroke-linejoin="round"/>
<path d="M1333.1 881.7 L1525.0 836.5 L1717.0 791.4 L1909.0 750.2 L2100.8 707.6" fill="none" stroke="#4bb0e6" stroke-width="2.7" stroke-linecap="round" stroke-linejoin="round"/>
<path d="M1333.1 869.9 L1525.0 819.3 L1717.0 771.4 L1909.0 726.7 L2100.8 678.4" fill="none" stroke="#2eb3a0" stroke-width="2.7" stroke-linecap="round" stroke-linejoin="round"/>
<path d="M1333.1 886.5 L1339.9 899.7 L1326.3 899.7 z" fill="#ea786c"/>
<path d="M1525.0 844.6 L1531.8 857.8 L1518.2 857.8 z" fill="#ea786c"/>
<path d="M1717.0 804.6 L1723.8 817.8 L1710.2 817.8 z" fill="#ea786c"/>
<path d="M1909.0 768.2 L1915.8 781.4 L1902.2 781.4 z" fill="#ea786c"/>
<path d="M2100.8 728.7 L2107.6 741.9 L2094.0 741.9 z" fill="#ea786c"/>
<path d="M1333.1 874.7 L1340.1 881.7 L1333.1 888.7 L1326.1 881.7 z" fill="#4bb0e6"/>
<path d="M1525.0 829.5 L1532.0 836.5 L1525.0 843.5 L1518.0 836.5 z" fill="#4bb0e6"/>
<path d="M1717.0 784.4 L1724.0 791.4 L1717.0 798.4 L1710.0 791.4 z" fill="#4bb0e6"/>
<path d="M1909.0 743.2 L1916.0 750.2 L1909.0 757.2 L1902.0 750.2 z" fill="#4bb0e6"/>
<path d="M2100.8 700.6 L2107.8 707.6 L2100.8 714.6 L2093.8 707.6 z" fill="#4bb0e6"/>
<rect x="1326.70" y="863.50" width="12.80" height="12.80" fill="#2eb3a0"/>
<rect x="1518.60" y="812.90" width="12.80" height="12.80" fill="#2eb3a0"/>
<rect x="1710.60" y="765.00" width="12.80" height="12.80" fill="#2eb3a0"/>
<rect x="1902.60" y="720.30" width="12.80" height="12.80" fill="#2eb3a0"/>
<rect x="2094.40" y="672.00" width="12.80" height="12.80" fill="#2eb3a0"/>
<line x1="1317.40" y1="575.80" x2="1361.10" y2="575.80" stroke="#ea786c" stroke-width="3.0" stroke-linecap="butt"/>
<path d="M1339.2 570.6 L1344.1 579.8 L1334.4 579.8 z" fill="#ea786c"/>
<text transform="translate(1364.39 581.90) scale(1.0136 1)" font-family='"DejaVu Sans Condensed", "DejaVu Sans", "Liberation Sans", sans-serif' font-size="17.6" font-weight="700" font-style="normal" fill="#000" stroke="#000" stroke-width="0.45">Low Revenue</text>
<line x1="1603.50" y1="575.80" x2="1647.60" y2="575.80" stroke="#4bb0e6" stroke-width="3.0" stroke-linecap="butt"/>
<path d="M1625.6 570.8 L1630.6 575.8 L1625.6 580.8 L1620.6 575.8 z" fill="#4bb0e6"/>
<text transform="translate(1650.40 581.90) scale(0.9965 1)" font-family='"DejaVu Sans Condensed", "DejaVu Sans", "Liberation Sans", sans-serif' font-size="17.6" font-weight="700" font-style="normal" fill="#000" stroke="#000" stroke-width="0.45">Base Revenue</text>
<line x1="1894.50" y1="575.80" x2="1937.90" y2="575.80" stroke="#2eb3a0" stroke-width="3.0" stroke-linecap="butt"/>
<rect x="1911.80" y="571.40" width="8.80" height="8.80" fill="#2eb3a0"/>
<text transform="translate(1941.50 581.90) scale(1.0041 1)" font-family='"DejaVu Sans Condensed", "DejaVu Sans", "Liberation Sans", sans-serif' font-size="17.6" font-weight="700" font-style="normal" fill="#000" stroke="#000" stroke-width="0.45">High Revenue</text>
<line x1="149.90" y1="1244.12" x2="1103.40" y2="1244.12" stroke="#62aeda" stroke-width="1.1" stroke-linecap="butt"/>
<line x1="149.90" y1="1324.84" x2="1103.40" y2="1324.84" stroke="#62aeda" stroke-width="1.1" stroke-linecap="butt"/>
<line x1="149.90" y1="1405.56" x2="1103.40" y2="1405.56" stroke="#62aeda" stroke-width="1.1" stroke-linecap="butt"/>
<line x1="149.90" y1="1486.28" x2="1103.40" y2="1486.28" stroke="#62aeda" stroke-width="1.1" stroke-linecap="butt"/>
<line x1="340.60" y1="1163.40" x2="340.60" y2="1567.00" stroke="#62aeda" stroke-width="1.1" stroke-linecap="butt"/>
<line x1="531.30" y1="1163.40" x2="531.30" y2="1567.00" stroke="#62aeda" stroke-width="1.1" stroke-linecap="butt"/>
<line x1="722.00" y1="1163.40" x2="722.00" y2="1567.00" stroke="#62aeda" stroke-width="1.1" stroke-linecap="butt"/>
<line x1="912.70" y1="1163.40" x2="912.70" y2="1567.00" stroke="#62aeda" stroke-width="1.1" stroke-linecap="butt"/>
<rect x="149.90" y="1163.40" width="953.50" height="403.60" fill="none" stroke="#46a2d6" stroke-width="1.9"/>
<line x1="149.90" y1="1567.00" x2="149.90" y2="1572.50" stroke="#46a2d6" stroke-width="1.2" stroke-linecap="butt"/>
<line x1="340.60" y1="1567.00" x2="340.60" y2="1572.50" stroke="#46a2d6" stroke-width="1.2" stroke-linecap="butt"/>
<line x1="531.30" y1="1567.00" x2="531.30" y2="1572.50" stroke="#46a2d6" stroke-width="1.2" stroke-linecap="butt"/>
<line x1="722.00" y1="1567.00" x2="722.00" y2="1572.50" stroke="#46a2d6" stroke-width="1.2" stroke-linecap="butt"/>
<line x1="912.70" y1="1567.00" x2="912.70" y2="1572.50" stroke="#46a2d6" stroke-width="1.2" stroke-linecap="butt"/>
<line x1="1103.40" y1="1567.00" x2="1103.40" y2="1572.50" stroke="#46a2d6" stroke-width="1.2" stroke-linecap="butt"/>
<text transform="translate(79.35 1169.00) scale(0.9780 1)" font-family='"DejaVu Sans Condensed", "DejaVu Sans", "Liberation Sans", sans-serif' font-size="17.6" font-weight="700" font-style="normal" fill="#000" stroke="#000" stroke-width="0.45">2,500</text>
<text transform="translate(79.35 1249.72) scale(0.9780 1)" font-family='"DejaVu Sans Condensed", "DejaVu Sans", "Liberation Sans", sans-serif' font-size="17.6" font-weight="700" font-style="normal" fill="#000" stroke="#000" stroke-width="0.45">2,000</text>
<text transform="translate(79.35 1330.44) scale(0.9780 1)" font-family='"DejaVu Sans Condensed", "DejaVu Sans", "Liberation Sans", sans-serif' font-size="17.6" font-weight="700" font-style="normal" fill="#000" stroke="#000" stroke-width="0.45">1,500</text>
<text transform="translate(79.35 1411.16) scale(0.9780 1)" font-family='"DejaVu Sans Condensed", "DejaVu Sans", "Liberation Sans", sans-serif' font-size="17.6" font-weight="700" font-style="normal" fill="#000" stroke="#000" stroke-width="0.45">1,000</text>
<text transform="translate(96.00 1491.88) scale(0.9780 1)" font-family='"DejaVu Sans Condensed", "DejaVu Sans", "Liberation Sans", sans-serif' font-size="17.6" font-weight="700" font-style="normal" fill="#000" stroke="#000" stroke-width="0.45">500</text>
<text transform="translate(122.43 1572.60) scale(0.9780 1)" font-family='"DejaVu Sans Condensed", "DejaVu Sans", "Liberation Sans", sans-serif' font-size="17.6" font-weight="700" font-style="normal" fill="#000" stroke="#000" stroke-width="0.45">-</text>
<text transform="translate(222.62 1616.20) scale(0.9850 1)" font-family='"DejaVu Sans Condensed", "DejaVu Sans", "Liberation Sans", sans-serif' font-size="17.6" font-weight="700" font-style="normal" fill="#000" stroke="#000" stroke-width="0.45">2026</text>
<text transform="translate(414.21 1616.20) scale(0.9850 1)" font-family='"DejaVu Sans Condensed", "DejaVu Sans", "Liberation Sans", sans-serif' font-size="17.6" font-weight="700" font-style="normal" fill="#000" stroke="#000" stroke-width="0.45">2027</text>
<text transform="translate(603.82 1616.20) scale(0.9850 1)" font-family='"DejaVu Sans Condensed", "DejaVu Sans", "Liberation Sans", sans-serif' font-size="17.6" font-weight="700" font-style="normal" fill="#000" stroke="#000" stroke-width="0.45">2028</text>
<text transform="translate(794.82 1616.20) scale(0.9850 1)" font-family='"DejaVu Sans Condensed", "DejaVu Sans", "Liberation Sans", sans-serif' font-size="17.6" font-weight="700" font-style="normal" fill="#000" stroke="#000" stroke-width="0.45">2029</text>
<text transform="translate(985.52 1616.20) scale(0.9850 1)" font-family='"DejaVu Sans Condensed", "DejaVu Sans", "Liberation Sans", sans-serif' font-size="17.6" font-weight="700" font-style="normal" fill="#000" stroke="#000" stroke-width="0.45">2030</text>
<path d="M244.8 1468.1 L435.9 1423.8 L626.0 1379.5 L817.0 1336.8 L1007.7 1290.9" fill="none" stroke="#ea786c" stroke-width="2.7" stroke-linecap="round" stroke-linejoin="round"/>
<path d="M244.8 1452.0 L435.9 1400.3 L626.0 1350.3 L817.0 1301.5 L1007.7 1250.8" fill="none" stroke="#4bb0e6" stroke-width="2.7" stroke-linecap="round" stroke-linejoin="round"/>
<path d="M244.8 1435.0 L435.9 1376.4 L626.0 1319.0 L817.0 1265.4 L1007.7 1208.4" fill="none" stroke="#2eb3a0" stroke-width="2.7" stroke-linecap="round" stroke-linejoin="round"/>
<path d="M244.8 1460.9 L251.6 1474.1 L238.0 1474.1 z" fill="#ea786c"/>
<path d="M435.9 1416.6 L442.7 1429.8 L429.1 1429.8 z" fill="#ea786c"/>
<path d="M626.0 1372.3 L632.8 1385.5 L619.2 1385.5 z" fill="#ea786c"/>
<path d="M817.0 1329.6 L823.8 1342.8 L810.2 1342.8 z" fill="#ea786c"/>
<path d="M1007.7 1283.7 L1014.5 1296.9 L1000.9 1296.9 z" fill="#ea786c"/>
<path d="M244.8 1445.0 L251.8 1452.0 L244.8 1459.0 L237.8 1452.0 z" fill="#4bb0e6"/>
<path d="M435.9 1393.3 L442.9 1400.3 L435.9 1407.3 L428.9 1400.3 z" fill="#4bb0e6"/>
<path d="M626.0 1343.3 L633.0 1350.3 L626.0 1357.3 L619.0 1350.3 z" fill="#4bb0e6"/>
<path d="M817.0 1294.5 L824.0 1301.5 L817.0 1308.5 L810.0 1301.5 z" fill="#4bb0e6"/>
<path d="M1007.7 1243.8 L1014.7 1250.8 L1007.7 1257.8 L1000.7 1250.8 z" fill="#4bb0e6"/>
<rect x="238.40" y="1428.60" width="12.80" height="12.80" fill="#2eb3a0"/>
<rect x="429.50" y="1370.00" width="12.80" height="12.80" fill="#2eb3a0"/>
<rect x="619.60" y="1312.60" width="12.80" height="12.80" fill="#2eb3a0"/>
<rect x="810.60" y="1259.00" width="12.80" height="12.80" fill="#2eb3a0"/>
<rect x="1001.30" y="1202.00" width="12.80" height="12.80" fill="#2eb3a0"/>
<line x1="131.60" y1="1117.60" x2="175.00" y2="1117.60" stroke="#ea786c" stroke-width="3.0" stroke-linecap="butt"/>
<path d="M153.3 1112.4 L158.1 1121.6 L148.5 1121.6 z" fill="#ea786c"/>
<text transform="translate(178.61 1123.70) scale(0.9923 1)" font-family='"DejaVu Sans Condensed", "DejaVu Sans", "Liberation Sans", sans-serif' font-size="17.6" font-weight="700" font-style="normal" fill="#000" stroke="#000" stroke-width="0.45">Low Contribution Margin</text>
<line x1="457.00" y1="1117.60" x2="501.10" y2="1117.60" stroke="#4bb0e6" stroke-width="3.0" stroke-linecap="butt"/>
<path d="M479.0 1112.6 L484.0 1117.6 L479.0 1122.6 L474.0 1117.6 z" fill="#4bb0e6"/>
<text transform="translate(504.41 1123.70) scale(0.9863 1)" font-family='"DejaVu Sans Condensed", "DejaVu Sans", "Liberation Sans", sans-serif' font-size="17.6" font-weight="700" font-style="normal" fill="#000" stroke="#000" stroke-width="0.45">Base Contribution Margin</text>
<line x1="788.60" y1="1117.60" x2="832.30" y2="1117.60" stroke="#2eb3a0" stroke-width="3.0" stroke-linecap="butt"/>
<rect x="806.05" y="1113.20" width="8.80" height="8.80" fill="#2eb3a0"/>
<text transform="translate(835.11 1123.70) scale(0.9904 1)" font-family='"DejaVu Sans Condensed", "DejaVu Sans", "Liberation Sans", sans-serif' font-size="17.6" font-weight="700" font-style="normal" fill="#000" stroke="#000" stroke-width="0.45">High Contribution Margin</text>
<line x1="1237.10" y1="1203.74" x2="2198.20" y2="1203.74" stroke="#62aeda" stroke-width="1.1" stroke-linecap="butt"/>
<line x1="1237.10" y1="1244.08" x2="2198.20" y2="1244.08" stroke="#62aeda" stroke-width="1.1" stroke-linecap="butt"/>
<line x1="1237.10" y1="1284.42" x2="2198.20" y2="1284.42" stroke="#62aeda" stroke-width="1.1" stroke-linecap="butt"/>
<line x1="1237.10" y1="1324.76" x2="2198.20" y2="1324.76" stroke="#62aeda" stroke-width="1.1" stroke-linecap="butt"/>
<line x1="1237.10" y1="1365.10" x2="2198.20" y2="1365.10" stroke="#62aeda" stroke-width="1.1" stroke-linecap="butt"/>
<line x1="1237.10" y1="1405.44" x2="2198.20" y2="1405.44" stroke="#62aeda" stroke-width="1.1" stroke-linecap="butt"/>
<line x1="1237.10" y1="1445.78" x2="2198.20" y2="1445.78" stroke="#62aeda" stroke-width="1.1" stroke-linecap="butt"/>
<line x1="1237.10" y1="1486.12" x2="2198.20" y2="1486.12" stroke="#62aeda" stroke-width="1.1" stroke-linecap="butt"/>
<line x1="1237.10" y1="1526.46" x2="2198.20" y2="1526.46" stroke="#62aeda" stroke-width="1.1" stroke-linecap="butt"/>
<line x1="1429.32" y1="1163.40" x2="1429.32" y2="1566.80" stroke="#62aeda" stroke-width="1.1" stroke-linecap="butt"/>
<line x1="1621.54" y1="1163.40" x2="1621.54" y2="1566.80" stroke="#62aeda" stroke-width="1.1" stroke-linecap="butt"/>
<line x1="1813.76" y1="1163.40" x2="1813.76" y2="1566.80" stroke="#62aeda" stroke-width="1.1" stroke-linecap="butt"/>
<line x1="2005.98" y1="1163.40" x2="2005.98" y2="1566.80" stroke="#62aeda" stroke-width="1.1" stroke-linecap="butt"/>
<rect x="1237.10" y="1163.40" width="961.10" height="403.40" fill="none" stroke="#46a2d6" stroke-width="1.9"/>
<text transform="translate(1166.45 1169.00) scale(0.9780 1)" font-family='"DejaVu Sans Condensed", "DejaVu Sans", "Liberation Sans", sans-serif' font-size="17.6" font-weight="700" font-style="normal" fill="#000" stroke="#000" stroke-width="0.45">1,800</text>
<text transform="translate(1166.45 1209.34) scale(0.9780 1)" font-family='"DejaVu Sans Condensed", "DejaVu Sans", "Liberation Sans", sans-serif' font-size="17.6" font-weight="700" font-style="normal" fill="#000" stroke="#000" stroke-width="0.45">1,600</text>
<text transform="translate(1166.45 1249.68) scale(0.9780 1)" font-family='"DejaVu Sans Condensed", "DejaVu Sans", "Liberation Sans", sans-serif' font-size="17.6" font-weight="700" font-style="normal" fill="#000" stroke="#000" stroke-width="0.45">1,400</text>
<text transform="translate(1166.45 1290.02) scale(0.9780 1)" font-family='"DejaVu Sans Condensed", "DejaVu Sans", "Liberation Sans", sans-serif' font-size="17.6" font-weight="700" font-style="normal" fill="#000" stroke="#000" stroke-width="0.45">1,200</text>
<text transform="translate(1166.45 1330.36) scale(0.9780 1)" font-family='"DejaVu Sans Condensed", "DejaVu Sans", "Liberation Sans", sans-serif' font-size="17.6" font-weight="700" font-style="normal" fill="#000" stroke="#000" stroke-width="0.45">1,000</text>
<text transform="translate(1183.10 1370.70) scale(0.9780 1)" font-family='"DejaVu Sans Condensed", "DejaVu Sans", "Liberation Sans", sans-serif' font-size="17.6" font-weight="700" font-style="normal" fill="#000" stroke="#000" stroke-width="0.45">800</text>
<text transform="translate(1183.10 1411.04) scale(0.9780 1)" font-family='"DejaVu Sans Condensed", "DejaVu Sans", "Liberation Sans", sans-serif' font-size="17.6" font-weight="700" font-style="normal" fill="#000" stroke="#000" stroke-width="0.45">600</text>
<text transform="translate(1183.10 1451.38) scale(0.9780 1)" font-family='"DejaVu Sans Condensed", "DejaVu Sans", "Liberation Sans", sans-serif' font-size="17.6" font-weight="700" font-style="normal" fill="#000" stroke="#000" stroke-width="0.45">400</text>
<text transform="translate(1183.10 1491.72) scale(0.9780 1)" font-family='"DejaVu Sans Condensed", "DejaVu Sans", "Liberation Sans", sans-serif' font-size="17.6" font-weight="700" font-style="normal" fill="#000" stroke="#000" stroke-width="0.45">200</text>
<text transform="translate(1209.53 1532.06) scale(0.9780 1)" font-family='"DejaVu Sans Condensed", "DejaVu Sans", "Liberation Sans", sans-serif' font-size="17.6" font-weight="700" font-style="normal" fill="#000" stroke="#000" stroke-width="0.45">-</text>
<text transform="translate(1170.60 1572.40) scale(1.1000 1)" font-family='"DejaVu Sans Condensed", "DejaVu Sans", "Liberation Sans", sans-serif' font-size="17.6" font-weight="700" font-style="normal" fill="#000" stroke="#000" stroke-width="0.45">(200)</text>
<text transform="translate(1310.72 1615.80) scale(0.9850 1)" font-family='"DejaVu Sans Condensed", "DejaVu Sans", "Liberation Sans", sans-serif' font-size="17.6" font-weight="700" font-style="normal" fill="#000" stroke="#000" stroke-width="0.45">2026</text>
<text transform="translate(1503.01 1615.80) scale(0.9850 1)" font-family='"DejaVu Sans Condensed", "DejaVu Sans", "Liberation Sans", sans-serif' font-size="17.6" font-weight="700" font-style="normal" fill="#000" stroke="#000" stroke-width="0.45">2027</text>
<text transform="translate(1694.62 1615.80) scale(0.9850 1)" font-family='"DejaVu Sans Condensed", "DejaVu Sans", "Liberation Sans", sans-serif' font-size="17.6" font-weight="700" font-style="normal" fill="#000" stroke="#000" stroke-width="0.45">2028</text>
<text transform="translate(1886.42 1615.80) scale(0.9850 1)" font-family='"DejaVu Sans Condensed", "DejaVu Sans", "Liberation Sans", sans-serif' font-size="17.6" font-weight="700" font-style="normal" fill="#000" stroke="#000" stroke-width="0.45">2029</text>
<text transform="translate(2078.52 1615.80) scale(0.9850 1)" font-family='"DejaVu Sans Condensed", "DejaVu Sans", "Liberation Sans", sans-serif' font-size="17.6" font-weight="700" font-style="normal" fill="#000" stroke="#000" stroke-width="0.45">2030</text>
<path d="M1332.9 1531.0 L1524.7 1490.1 L1716.8 1451.1 L1908.6 1413.2 L2100.7 1372.8" fill="none" stroke="#ea786c" stroke-width="2.7" stroke-linecap="round" stroke-linejoin="round"/>
<path d="M1332.9 1487.0 L1524.7 1434.3 L1716.8 1384.7 L1908.6 1336.3 L2100.7 1285.0" fill="none" stroke="#4bb0e6" stroke-width="2.7" stroke-linecap="round" stroke-linejoin="round"/>
<path d="M1332.9 1447.5 L1524.7 1383.5 L1716.8 1322.9 L1908.6 1265.4 L2100.7 1203.4" fill="none" stroke="#2eb3a0" stroke-width="2.7" stroke-linecap="round" stroke-linejoin="round"/>
<path d="M1332.9 1523.8 L1339.7 1537.0 L1326.1 1537.0 z" fill="#ea786c"/>
<path d="M1524.7 1482.9 L1531.5 1496.1 L1517.9 1496.1 z" fill="#ea786c"/>
<path d="M1716.8 1443.9 L1723.6 1457.1 L1710.0 1457.1 z" fill="#ea786c"/>
<path d="M1908.6 1406.0 L1915.4 1419.2 L1901.8 1419.2 z" fill="#ea786c"/>
<path d="M2100.7 1365.6 L2107.5 1378.8 L2093.9 1378.8 z" fill="#ea786c"/>
<path d="M1332.9 1480.0 L1339.9 1487.0 L1332.9 1494.0 L1325.9 1487.0 z" fill="#4bb0e6"/>
<path d="M1524.7 1427.3 L1531.7 1434.3 L1524.7 1441.3 L1517.7 1434.3 z" fill="#4bb0e6"/>
<path d="M1716.8 1377.7 L1723.8 1384.7 L1716.8 1391.7 L1709.8 1384.7 z" fill="#4bb0e6"/>
<path d="M1908.6 1329.3 L1915.6 1336.3 L1908.6 1343.3 L1901.6 1336.3 z" fill="#4bb0e6"/>
<path d="M2100.7 1278.0 L2107.7 1285.0 L2100.7 1292.0 L2093.7 1285.0 z" fill="#4bb0e6"/>
<rect x="1326.50" y="1441.10" width="12.80" height="12.80" fill="#2eb3a0"/>
<rect x="1518.30" y="1377.10" width="12.80" height="12.80" fill="#2eb3a0"/>
<rect x="1710.40" y="1316.50" width="12.80" height="12.80" fill="#2eb3a0"/>
<rect x="1902.20" y="1259.00" width="12.80" height="12.80" fill="#2eb3a0"/>
<rect x="2094.30" y="1197.00" width="12.80" height="12.80" fill="#2eb3a0"/>
<line x1="1306.80" y1="1117.60" x2="1350.30" y2="1117.60" stroke="#ea786c" stroke-width="3.0" stroke-linecap="butt"/>
<path d="M1328.5 1112.4 L1333.4 1121.6 L1323.7 1121.6 z" fill="#ea786c"/>
<text transform="translate(1353.78 1123.70) scale(1.0237 1)" font-family='"DejaVu Sans Condensed", "DejaVu Sans", "Liberation Sans", sans-serif' font-size="17.6" font-weight="700" font-style="normal" fill="#000" stroke="#000" stroke-width="0.45">Low EBITDA</text>
<line x1="1602.70" y1="1117.60" x2="1646.40" y2="1117.60" stroke="#4bb0e6" stroke-width="3.0" stroke-linecap="butt"/>
<path d="M1624.6 1112.6 L1629.6 1117.6 L1624.6 1122.6 L1619.6 1117.6 z" fill="#4bb0e6"/>
<text transform="translate(1649.69 1123.70) scale(1.0078 1)" font-family='"DejaVu Sans Condensed", "DejaVu Sans", "Liberation Sans", sans-serif' font-size="17.6" font-weight="700" font-style="normal" fill="#000" stroke="#000" stroke-width="0.45">Base EBITDA</text>
<line x1="1903.60" y1="1117.60" x2="1946.80" y2="1117.60" stroke="#2eb3a0" stroke-width="3.0" stroke-linecap="butt"/>
<rect x="1920.80" y="1113.20" width="8.80" height="8.80" fill="#2eb3a0"/>
<text transform="translate(1950.58 1123.70) scale(1.0172 1)" font-family='"DejaVu Sans Condensed", "DejaVu Sans", "Liberation Sans", sans-serif' font-size="17.6" font-weight="700" font-style="normal" fill="#000" stroke="#000" stroke-width="0.45">High EBITDA</text>
</svg></div>
<div class="rg " id="vscroll" style="left:2860px;top:278px;width:31px;height:1394px;background:#0a0a0a;">
<svg width="31" height="1394" viewBox="2860 278 31 1394">
<rect x="2862.60" y="280.00" width="25.80" height="1391.00" fill="#151515" rx="12.9"/>
<path d="M2876 286.3 L2882.8 295.6 L2869.2 295.6 z" fill="#9a9a9a" stroke="#9a9a9a" stroke-width="1.4" stroke-linecap="round" stroke-linejoin="round"/>
<rect x="2869.90" y="304.00" width="12.20" height="1239.00" fill="#9a9a9a" rx="6.1"/>
<path d="M2876 1663.6 L2882.6 1655 L2869.4 1655 z" fill="#9a9a9a" stroke="#9a9a9a" stroke-width="1.4" stroke-linecap="round" stroke-linejoin="round"/>
</svg></div>
<div class="rg " id="tabbar" style="left:11px;top:1670px;width:2880px;height:48px;background:#0a0a0a;">
<svg width="2880" height="48" viewBox="11 1670 2880 48">
<path d="M53.8 1685.6 L47.4 1692.8 L53.8 1700" fill="none" stroke="#8e8e8e" stroke-width="1.6" stroke-linecap="round" stroke-linejoin="round"/>
<path d="M96.2 1685.6 L102.6 1692.8 L96.2 1700" fill="none" stroke="#e0e0e0" stroke-width="1.7" stroke-linecap="round" stroke-linejoin="round"/>
<text transform="translate(189.36 1702.30) scale(1.0411 1)" font-family='"Liberation Sans", sans-serif' font-size="20" font-weight="400" font-style="normal" fill="#ffffff">Contents</text>
<rect x="299.20" y="1676.40" width="127.40" height="35.20" fill="#fcee6c" rx="7"/>
<text transform="translate(312.98 1702.30) scale(1.0244 1)" font-family='"Liberation Sans", sans-serif' font-size="20.3" font-weight="400" font-style="normal" fill="#1b1b1b">Dashboard</text>
<rect x="440.30" y="1676.40" width="105.20" height="35.20" fill="#fcee6c" rx="7"/>
<text transform="translate(453.52 1702.30) scale(0.9762 1)" font-family='"Liberation Sans", sans-serif' font-size="20.3" font-weight="400" font-style="normal" fill="#1b1b1b">Revenue</text>
<rect x="559.30" y="1676.40" width="157.40" height="35.20" fill="#fcee6c" rx="7"/>
<text transform="translate(571.25 1702.30) scale(0.9462 1)" font-family='"Liberation Sans", sans-serif' font-size="20.3" font-weight="400" font-style="normal" fill="#1b1b1b">COGS &amp; OPEX</text>
<rect x="730.10" y="1676.40" width="88.50" height="35.20" fill="#fcee6c" rx="7"/>
<text transform="translate(742.49 1702.30) scale(1.0134 1)" font-family='"Liberation Sans", sans-serif' font-size="20.3" font-weight="400" font-style="normal" fill="#1b1b1b">Payroll</text>
<rect x="832.40" y="1676.40" width="86.00" height="35.20" fill="#fcee6c" rx="7"/>
<text transform="translate(844.51 1702.30) scale(0.8853 1)" font-family='"Liberation Sans", sans-serif' font-size="20.3" font-weight="400" font-style="normal" fill="#1b1b1b">CAPEX</text>
<rect x="932.20" y="1676.40" width="112.40" height="35.20" fill="#fcee6c" rx="7"/>
<text transform="translate(944.48 1702.30) scale(1.0188 1)" font-family='"Liberation Sans", sans-serif' font-size="20.3" font-weight="400" font-style="normal" fill="#1b1b1b">CapTable</text>
<rect x="1058.00" y="1676.40" width="89.70" height="35.20" fill="#fcee6c" rx="7"/>
<text transform="translate(1070.37 1702.30) scale(1.0272 1)" font-family='"Liberation Sans", sans-serif' font-size="20.3" font-weight="400" font-style="normal" fill="#1b1b1b">Capital</text>
<rect x="1161.10" y="1676.40" width="41.40" height="35.20" fill="#4ab1e8" rx="7"/>
<text transform="translate(1173.62 1702.30) scale(0.8789 1)" font-family='"Liberation Sans", sans-serif' font-size="20.3" font-weight="400" font-style="normal" fill="#0d2036">IS</text>
<rect x="1215.90" y="1676.40" width="47.90" height="35.20" fill="#4ab1e8" rx="7"/>
<text transform="translate(1228.43 1702.30) scale(0.8695 1)" font-family='"Liberation Sans", sans-serif' font-size="20.3" font-weight="400" font-style="normal" fill="#0d2036">CF</text>
<rect x="1277.20" y="1676.40" width="47.50" height="35.20" fill="#4ab1e8" rx="7"/>
<text transform="translate(1290.16 1702.30) scale(0.8422 1)" font-family='"Liberation Sans", sans-serif' font-size="20.3" font-weight="400" font-style="normal" fill="#0d2036">BS</text>
<rect x="1465.90" y="1676.40" width="114.90" height="35.20" fill="#4ab1e8" rx="7"/>
<text transform="translate(1478.90 1702.30) scale(1.0772 1)" font-family='"Liberation Sans", sans-serif' font-size="20.3" font-weight="400" font-style="normal" fill="#0d2036">Valuation</text>
<rect x="1594.20" y="1676.40" width="113.60" height="35.20" fill="#4ab1e8" rx="7"/>
<text transform="translate(1608.00 1702.30) scale(0.9951 1)" font-family='"Liberation Sans", sans-serif' font-size="20.3" font-weight="400" font-style="normal" fill="#0d2036">Summary</text>
<rect x="1721.20" y="1676.40" width="47.50" height="35.20" fill="#4ab1e8" rx="7"/>
<text transform="translate(1733.76 1702.30) scale(0.8422 1)" font-family='"Liberation Sans", sans-serif' font-size="20.3" font-weight="400" font-style="normal" fill="#0d2036">BE</text>
<rect x="1782.10" y="1676.40" width="71.80" height="35.20" fill="#4ab1e8" rx="7"/>
<text transform="translate(1794.57 1702.30) scale(0.9336 1)" font-family='"Liberation Sans", sans-serif' font-size="20.3" font-weight="400" font-style="normal" fill="#0d2036">ROIC</text>
<rect x="1867.30" y="1676.40" width="84.40" height="35.20" fill="#4ab1e8" rx="7"/>
<text transform="translate(1878.90 1702.30) scale(0.9967 1)" font-family='"Liberation Sans", sans-serif' font-size="20.3" font-weight="400" font-style="normal" fill="#0d2036">Charts</text>
<rect x="1965.10" y="1676.40" width="63.80" height="35.20" fill="#4ab1e8" rx="7"/>
<text transform="translate(1977.60 1702.30) scale(0.8971 1)" font-family='"Liberation Sans", sans-serif' font-size="20.3" font-weight="400" font-style="normal" fill="#0d2036">KPIs</text>
<line x1="292.30" y1="1680.20" x2="292.30" y2="1707.50" stroke="#6c6c6c" stroke-width="1.0" stroke-linecap="butt"/>
<line x1="433.20" y1="1680.20" x2="433.20" y2="1707.50" stroke="#6c6c6c" stroke-width="1.0" stroke-linecap="butt"/>
<line x1="552.60" y1="1680.20" x2="552.60" y2="1707.50" stroke="#6c6c6c" stroke-width="1.0" stroke-linecap="butt"/>
<line x1="723.50" y1="1680.20" x2="723.50" y2="1707.50" stroke="#6c6c6c" stroke-width="1.0" stroke-linecap="butt"/>
<line x1="825.40" y1="1680.20" x2="825.40" y2="1707.50" stroke="#6c6c6c" stroke-width="1.0" stroke-linecap="butt"/>
<line x1="925.30" y1="1680.20" x2="925.30" y2="1707.50" stroke="#6c6c6c" stroke-width="1.0" stroke-linecap="butt"/>
<line x1="1051.40" y1="1680.20" x2="1051.40" y2="1707.50" stroke="#6c6c6c" stroke-width="1.0" stroke-linecap="butt"/>
<line x1="1154.50" y1="1680.20" x2="1154.50" y2="1707.50" stroke="#6c6c6c" stroke-width="1.0" stroke-linecap="butt"/>
<line x1="1209.30" y1="1680.20" x2="1209.30" y2="1707.50" stroke="#6c6c6c" stroke-width="1.0" stroke-linecap="butt"/>
<line x1="1270.60" y1="1680.20" x2="1270.60" y2="1707.50" stroke="#6c6c6c" stroke-width="1.0" stroke-linecap="butt"/>
<line x1="1331.80" y1="1680.20" x2="1331.80" y2="1707.50" stroke="#6c6c6c" stroke-width="1.0" stroke-linecap="butt"/>
<line x1="1459.80" y1="1680.20" x2="1459.80" y2="1707.50" stroke="#6c6c6c" stroke-width="1.0" stroke-linecap="butt"/>
<line x1="1587.30" y1="1680.20" x2="1587.30" y2="1707.50" stroke="#6c6c6c" stroke-width="1.0" stroke-linecap="butt"/>
<line x1="1714.30" y1="1680.20" x2="1714.30" y2="1707.50" stroke="#6c6c6c" stroke-width="1.0" stroke-linecap="butt"/>
<line x1="1775.60" y1="1680.20" x2="1775.60" y2="1707.50" stroke="#6c6c6c" stroke-width="1.0" stroke-linecap="butt"/>
<line x1="1860.80" y1="1680.20" x2="1860.80" y2="1707.50" stroke="#6c6c6c" stroke-width="1.0" stroke-linecap="butt"/>
<line x1="1958.60" y1="1680.20" x2="1958.60" y2="1707.50" stroke="#6c6c6c" stroke-width="1.0" stroke-linecap="butt"/>
<line x1="2035.40" y1="1680.20" x2="2035.40" y2="1707.50" stroke="#6c6c6c" stroke-width="1.0" stroke-linecap="butt"/>
<clipPath id="lt"><rect x="2041.9" y="1670" width="29.8" height="48"/></clipPath><g clip-path="url(#lt)">
<rect x="2041.90" y="1676.40" width="108.10" height="35.20" fill="#4ab1e8" rx="7"/>
<text transform="translate(2054.50 1702.30)" font-family='"Liberation Sans", sans-serif' font-size="20.3" font-weight="400" font-style="normal" fill="#0d2036">Sc</text>
</g>
<defs><linearGradient id="ag" x1="0" y1="0" x2="0" y2="1"><stop offset="0" stop-color="#ffffff"/><stop offset="0.3" stop-color="#fafcfe"/><stop offset="1" stop-color="#c6e0f5"/></linearGradient></defs>
<path d="M1332 1670 h127 v0 a6 6 0 0 0 -6 6 v29.8 a6 6 0 0 1 -6 6 h-103 a6 6 0 0 1 -6 -6 v-29.8 a6 6 0 0 0 -6 -6 z" fill="url(#ag)"/>
<text transform="translate(1350.40 1697.60) scale(0.9962 1)" font-family='"Liberation Sans", sans-serif' font-size="20.3" font-weight="400" font-style="normal" fill="#17212e" stroke="#17212e" stroke-width="0.6">Scenarios</text>
<rect x="1350.00" y="1704.90" width="90.60" height="3.00" fill="#1a7f46"/>
<circle cx="2089.20" cy="1692.90" r="2.30" fill="#ececec"/>
<circle cx="2095.30" cy="1692.90" r="2.30" fill="#ececec"/>
<circle cx="2101.40" cy="1692.90" r="2.30" fill="#ececec"/>
<path d="M2135.2 1692.9 h17 M2143.7 1684.4 v17" fill="none" stroke="#e6e6e6" stroke-width="1.6" stroke-linecap="butt" stroke-linejoin="round"/>
<rect x="2190.50" y="1687.30" width="3.20" height="3.00" fill="#e8e8e8"/>
<rect x="2190.50" y="1693.30" width="3.20" height="3.00" fill="#e8e8e8"/>
<rect x="2190.50" y="1699.30" width="3.20" height="3.00" fill="#e8e8e8"/>
<rect x="2216.40" y="1680.60" width="643.40" height="25.80" fill="#161616" rx="12.9"/>
<path d="M2224 1693.3 L2233 1686.9 L2233 1699.7 z" fill="#9a9a9a" stroke="#9a9a9a" stroke-width="1.4" stroke-linecap="round" stroke-linejoin="round"/>
<path d="M2851.6 1693.3 L2842.6 1686.9 L2842.6 1699.7 z" fill="#9a9a9a" stroke="#9a9a9a" stroke-width="1.4" stroke-linecap="round" stroke-linejoin="round"/>
<rect x="2241.60" y="1687.00" width="583.00" height="12.40" fill="#9a9a9a" rx="6.2"/>
</svg></div>
<div class="rg " id="statusbar" style="left:11px;top:1718px;width:2880px;height:33px;background:#141414;">
<svg width="2880" height="33" viewBox="11 1718 2880 33">
<line x1="11.00" y1="1718.40" x2="2891.00" y2="1718.40" stroke="#2c2c2c" stroke-width="1.2" stroke-linecap="butt"/>
<text transform="translate(26.86 1740.80) scale(0.9372 1)" font-family='"Liberation Sans", sans-serif' font-size="15.6" font-weight="400" font-style="normal" fill="#f4f4f4">Ready</text>
<path d="M100 1743.1 V1727 H119.9 V1732.6" fill="none" stroke="#f2f2f2" stroke-width="1.8" stroke-linecap="butt" stroke-linejoin="miter"/>
<line x1="100.00" y1="1730.30" x2="119.90" y2="1730.30" stroke="#f2f2f2" stroke-width="1.4" stroke-linecap="butt"/>
<line x1="99.10" y1="1743.10" x2="107.80" y2="1743.10" stroke="#f2f2f2" stroke-width="1.8" stroke-linecap="butt"/>
<line x1="102.00" y1="1733.30" x2="106.00" y2="1733.30" stroke="#f2f2f2" stroke-width="1.4" stroke-linecap="butt"/>
<line x1="102.00" y1="1736.30" x2="106.00" y2="1736.30" stroke="#f2f2f2" stroke-width="1.4" stroke-linecap="butt"/>
<line x1="102.00" y1="1739.50" x2="106.00" y2="1739.50" stroke="#f2f2f2" stroke-width="1.4" stroke-linecap="butt"/>
<circle cx="113.90" cy="1738.70" r="5.80" fill="#141414" stroke="#f2f2f2" stroke-width="1.8"/>
<circle cx="113.90" cy="1738.70" r="3.00" fill="#f2f2f2"/>
<circle cx="155.30" cy="1727.70" r="2.30" fill="none" stroke="#f2f2f2" stroke-width="1.5"/>
<path d="M147 1729.9 c2.6 2 5.6 2.7 8.3 2.7 c2.7 0 5.7 -0.7 8.3 -2.7" fill="none" stroke="#f2f2f2" stroke-width="2.6" stroke-linecap="round" stroke-linejoin="round"/>
<path d="M152.9 1732.8 c0.2 4.4 -1 8 -2.8 11.4 M154.2 1738.6 c1 0.2 1.6 1 2 2.4" fill="none" stroke="#f2f2f2" stroke-width="2.2" stroke-linecap="round" stroke-linejoin="round"/>
<path d="M157.3 1735.9 l9.6 9.6 M166.9 1735.9 l-9.6 9.6" fill="none" stroke="#f2f2f2" stroke-width="1.5" stroke-linecap="butt" stroke-linejoin="round"/>
<text transform="translate(173.50 1740.80) scale(1.0018 1)" font-family='"Liberation Sans", sans-serif' font-size="15.6" font-weight="700" font-style="normal" fill="#ffffff">Accessibility: Investigate</text>
<rect x="2445.00" y="1719.00" width="59.90" height="32.00" fill="#272727"/>
<rect x="2464.90" y="1725.10" width="18.40" height="17.90" fill="none" stroke="#ffffff" stroke-width="1.9"/>
<line x1="2471.10" y1="1725.10" x2="2471.10" y2="1743.00" stroke="#ffffff" stroke-width="1.8" stroke-linecap="butt"/>
<line x1="2477.20" y1="1725.10" x2="2477.20" y2="1743.00" stroke="#ffffff" stroke-width="1.8" stroke-linecap="butt"/>
<line x1="2464.90" y1="1731.10" x2="2483.30" y2="1731.10" stroke="#ffffff" stroke-width="1.8" stroke-linecap="butt"/>
<line x1="2464.90" y1="1737.00" x2="2483.30" y2="1737.00" stroke="#ffffff" stroke-width="1.8" stroke-linecap="butt"/>
<rect x="2525.00" y="1725.10" width="19.90" height="17.90" fill="none" stroke="#ffffff" stroke-width="1.9"/>
<rect x="2529.60" y="1728.20" width="10.80" height="12.00" fill="none" stroke="#ffffff" stroke-width="1.6"/>
<line x1="2532.00" y1="1732.70" x2="2538.00" y2="1732.70" stroke="#ffffff" stroke-width="1.5" stroke-linecap="butt"/>
<line x1="2532.00" y1="1736.20" x2="2538.00" y2="1736.20" stroke="#ffffff" stroke-width="1.5" stroke-linecap="butt"/>
<rect x="2585.10" y="1725.10" width="19.90" height="17.90" fill="none" stroke="#ffffff" stroke-width="1.9"/>
<path d="M2591.2 1725.1 V1736.3 M2597.9 1725.1 V1736.3 H2585.1" fill="none" stroke="#ffffff" stroke-width="1.8" stroke-linecap="butt" stroke-linejoin="miter"/>
<line x1="2633.20" y1="1734.80" x2="2644.40" y2="1734.80" stroke="#ffffff" stroke-width="1.5" stroke-linecap="butt"/>
<line x1="2653.00" y1="1735.00" x2="2801.30" y2="1735.00" stroke="#b4b4b4" stroke-width="2.1" stroke-linecap="butt"/>
<rect x="2725.90" y="1726.00" width="8.10" height="16.80" fill="#c2c2c2"/>
<path d="M2809.2 1734.7 h11.4 M2814.9 1729 v11.3" fill="none" stroke="#ffffff" stroke-width="1.5" stroke-linecap="butt" stroke-linejoin="round"/>
<text transform="translate(2839.95 1740.60) scale(1.0494 1)" font-family='"Liberation Sans", sans-serif' font-size="15.2" font-weight="400" font-style="normal" fill="#f4f4f4">110%</text>
</svg></div>
</body></html>
